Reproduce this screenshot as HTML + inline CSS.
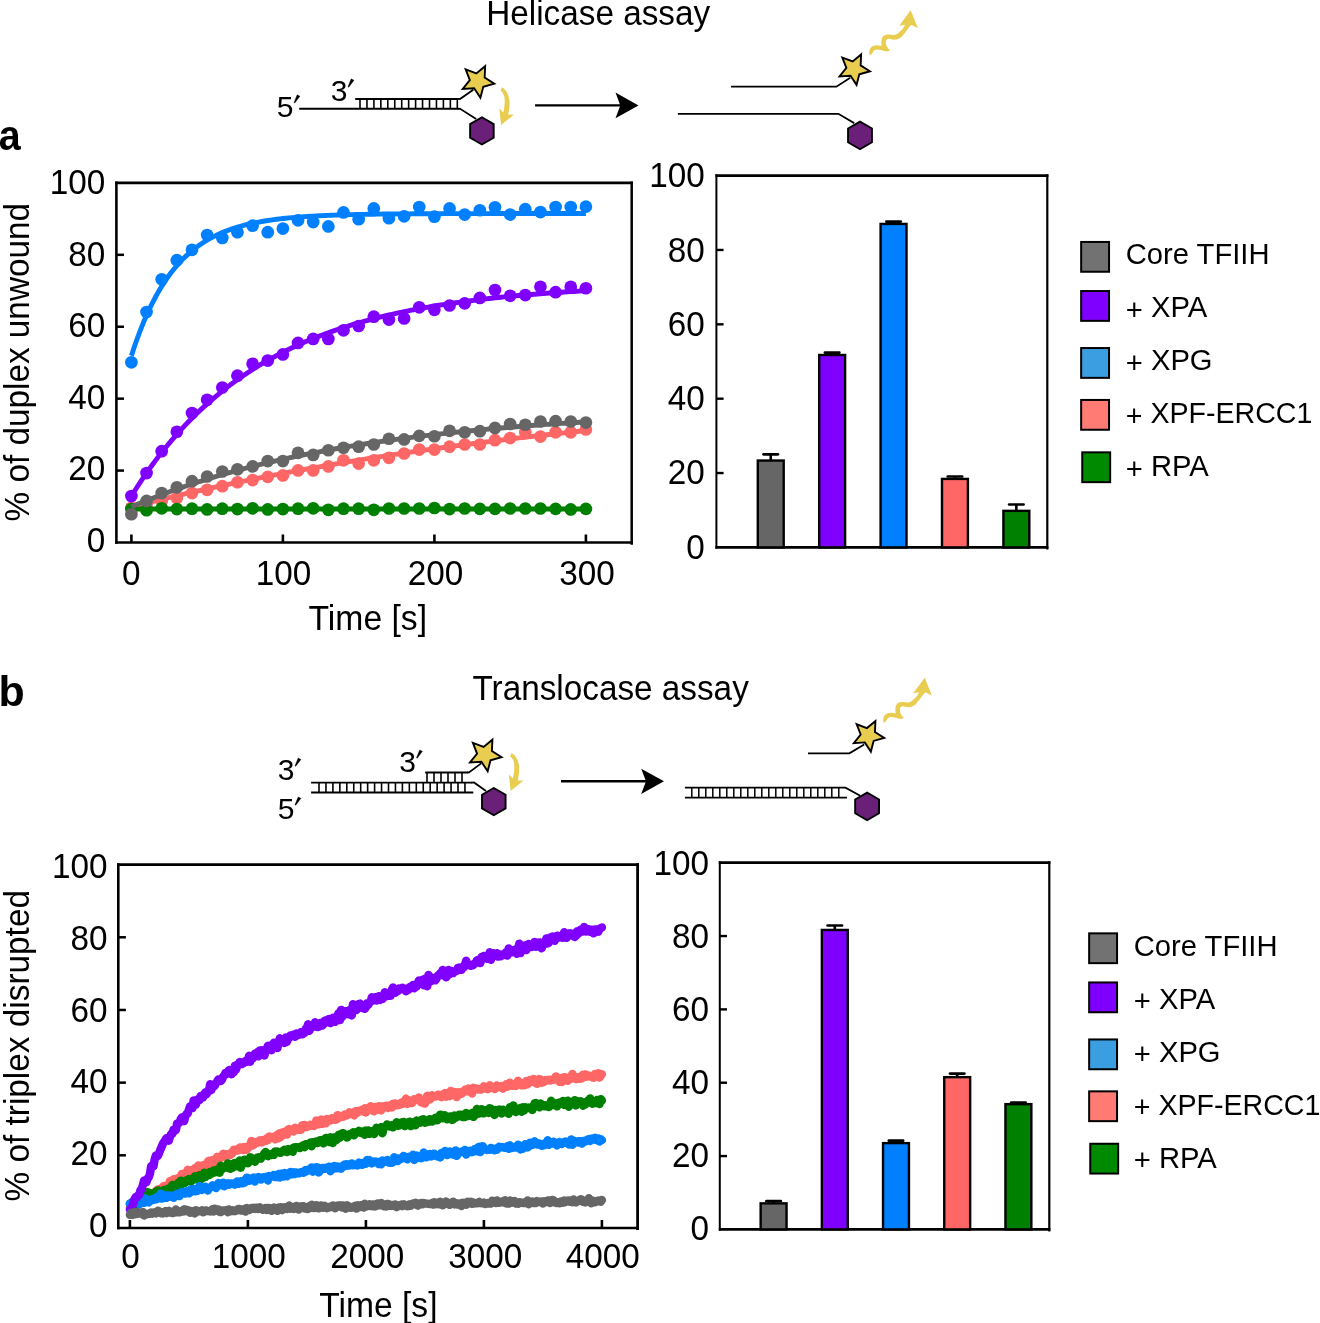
<!DOCTYPE html>
<html><head><meta charset="utf-8"><style>
html,body{margin:0;padding:0;background:#fff;}
svg{display:block;}
text{font-family:"Liberation Sans",sans-serif;fill:#000;}
</style></head><body>
<svg width="1320" height="1323" viewBox="0 0 1320 1323" style="will-change:transform">
<rect width="1320" height="1323" fill="#fff"/>
<text transform="translate(486.27,24.5) scale(1,1.03)" font-size="33.3">Helicase assay</text>
<text transform="translate(472.45,700.2) scale(1,1.03)" font-size="33.3">Translocase assay</text>
<text transform="translate(-1.15,149.6) scale(1,1.065)" font-size="39.4" font-weight="bold">a</text>
<text transform="translate(-1.53,706.3) scale(1,0.975)" font-size="42.9" font-weight="bold">b</text>
<text transform="translate(276.8,116.5) scale(1,1.0)" font-size="30">5</text>
<polygon points="297.17,94.75 299.97,96.15 294.77,103.05 293.97,102.65" fill="#000" stroke="#000" stroke-width="0.35" stroke-linejoin="round"/>
<text transform="translate(330.86,100.6) scale(1,1.0)" font-size="30">3</text>
<polygon points="351.17,78.85 353.97,80.25 348.77,87.15 347.97,86.75" fill="#000" stroke="#000" stroke-width="0.35" stroke-linejoin="round"/>
<line x1="299.2" y1="108.8" x2="458.5" y2="108.8" stroke="#000" stroke-width="1.9"/>
<line x1="355.2" y1="99" x2="458.5" y2="99" stroke="#000" stroke-width="1.8"/>
<line x1="360" y1="99" x2="360" y2="108.8" stroke="#000" stroke-width="1.6"/>
<line x1="366.95" y1="99" x2="366.95" y2="108.8" stroke="#000" stroke-width="1.6"/>
<line x1="373.9" y1="99" x2="373.9" y2="108.8" stroke="#000" stroke-width="1.6"/>
<line x1="380.85" y1="99" x2="380.85" y2="108.8" stroke="#000" stroke-width="1.6"/>
<line x1="387.8" y1="99" x2="387.8" y2="108.8" stroke="#000" stroke-width="1.6"/>
<line x1="394.75" y1="99" x2="394.75" y2="108.8" stroke="#000" stroke-width="1.6"/>
<line x1="401.7" y1="99" x2="401.7" y2="108.8" stroke="#000" stroke-width="1.6"/>
<line x1="408.65" y1="99" x2="408.65" y2="108.8" stroke="#000" stroke-width="1.6"/>
<line x1="415.6" y1="99" x2="415.6" y2="108.8" stroke="#000" stroke-width="1.6"/>
<line x1="422.55" y1="99" x2="422.55" y2="108.8" stroke="#000" stroke-width="1.6"/>
<line x1="429.5" y1="99" x2="429.5" y2="108.8" stroke="#000" stroke-width="1.6"/>
<line x1="436.45" y1="99" x2="436.45" y2="108.8" stroke="#000" stroke-width="1.6"/>
<line x1="443.4" y1="99" x2="443.4" y2="108.8" stroke="#000" stroke-width="1.6"/>
<line x1="450.35" y1="99" x2="450.35" y2="108.8" stroke="#000" stroke-width="1.6"/>
<line x1="457.3" y1="99" x2="457.3" y2="108.8" stroke="#000" stroke-width="1.6"/>
<polyline points="457.6,99 460.3,98.8 473.3,89.7" fill="none" stroke="#000" stroke-width="1.8" stroke-linejoin="miter"/>
<polyline points="457.6,108.8 459.8,108.6 476.2,119" fill="none" stroke="#000" stroke-width="1.8" stroke-linejoin="miter"/>
<polygon points="485.15,66.17 484.66,77.55 494.27,83.68 483.28,86.74 480.42,97.77 474.13,88.27 462.75,88.96 469.84,80.03 465.67,69.42 476.35,73.41" fill="#E8CD50" stroke="#000" stroke-width="1.9" stroke-linejoin="miter"/>
<polygon points="481.9,117.3 493.68,124.1 493.68,137.7 481.9,144.5 470.12,137.7 470.12,124.1" fill="#6A1F78" stroke="#000" stroke-width="1.9"/>
<path transform="translate(0,0)" d="M501.9,87.2 C506.5,89.5 509.8,96 509.6,104 C509.4,109 508.6,112 508.2,114.6 L513.9,114.7 L501.1,125.1 L499.3,108.6 L503.4,112.6 C504.6,107 505.2,100 504.2,96 C503.6,93.5 502.4,91.8 500.6,90.9 Z" fill="#E8CD50"/>
<line x1="535.1" y1="105.4" x2="621.3" y2="105.4" stroke="#000" stroke-width="2.4"/><polygon points="638.5,105.4 615.5,92.5 620.3,105.4 615.5,118.3" fill="#000"/>
<polyline points="731,86.7 836.4,86.7 850.2,77.8" fill="none" stroke="#000" stroke-width="1.8" stroke-linejoin="miter"/>
<polygon points="861.13,54.4 860.64,65.39 869.92,71.29 859.32,74.23 856.57,84.88 850.51,75.7 839.53,76.38 846.38,67.78 842.35,57.55 852.65,61.4" fill="#E8CD50" stroke="#000" stroke-width="1.9" stroke-linejoin="miter"/>
<polyline points="677.9,113.8 838.4,113.8 854.2,123.1" fill="none" stroke="#000" stroke-width="1.8" stroke-linejoin="miter"/>
<polygon points="860,121.6 871.95,128.5 871.95,142.3 860,149.2 848.05,142.3 848.05,128.5" fill="#6A1F78" stroke="#000" stroke-width="1.9"/>
<path transform="translate(0,0)" d="M869.85,55.6 C868.6,52 869.5,48 872.5,46.2 C875.5,44.6 879,45.2 881.7,45.9 C880.8,42 881.5,37.5 884,35.6 C887,33.6 891,34.6 894,35 C897.5,34.8 900.5,31 903.3,28.2 L905.1,24.7 L899.2,25.7 L910.7,10.2 L917.9,27.9 L911.2,24.7 C909.5,26.5 905,33 901.9,36.5 C899.5,38.8 896.5,39.8 894,39.7 C891,39.5 888,37.8 886.6,39.7 C885,41.5 886,45 887.5,47.5 L890,50.8 C887,51.8 884,51 881.7,50.3 C879,49.6 876,49 873.8,50.8 C872.6,52 872.5,54 869.85,55.6 Z" fill="#E8CD50"/>
<text transform="translate(277.86,779.8) scale(1,1.0)" font-size="30">3</text>
<polygon points="298.17,758.05 300.97,759.45 295.77,766.35 294.97,765.95" fill="#000" stroke="#000" stroke-width="0.35" stroke-linejoin="round"/>
<text transform="translate(277.8,818.7) scale(1,1.0)" font-size="30">5</text>
<polygon points="298.17,796.95 300.97,798.35 295.77,805.25 294.97,804.85" fill="#000" stroke="#000" stroke-width="0.35" stroke-linejoin="round"/>
<text transform="translate(399.36,771.7) scale(1,1.0)" font-size="30">3</text>
<polygon points="419.67,749.95 422.47,751.35 417.27,758.25 416.47,757.85" fill="#000" stroke="#000" stroke-width="0.35" stroke-linejoin="round"/>
<line x1="311.1" y1="782.6" x2="472" y2="782.6" stroke="#000" stroke-width="1.9"/>
<line x1="311.1" y1="792.5" x2="473.3" y2="792.5" stroke="#000" stroke-width="1.9"/>
<line x1="425.2" y1="772.5" x2="467.6" y2="772.5" stroke="#000" stroke-width="1.8"/>
<line x1="319" y1="782.6" x2="319" y2="792.5" stroke="#000" stroke-width="1.6"/>
<line x1="325.95" y1="782.6" x2="325.95" y2="792.5" stroke="#000" stroke-width="1.6"/>
<line x1="332.9" y1="782.6" x2="332.9" y2="792.5" stroke="#000" stroke-width="1.6"/>
<line x1="339.85" y1="782.6" x2="339.85" y2="792.5" stroke="#000" stroke-width="1.6"/>
<line x1="346.8" y1="782.6" x2="346.8" y2="792.5" stroke="#000" stroke-width="1.6"/>
<line x1="353.75" y1="782.6" x2="353.75" y2="792.5" stroke="#000" stroke-width="1.6"/>
<line x1="360.7" y1="782.6" x2="360.7" y2="792.5" stroke="#000" stroke-width="1.6"/>
<line x1="367.65" y1="782.6" x2="367.65" y2="792.5" stroke="#000" stroke-width="1.6"/>
<line x1="374.6" y1="782.6" x2="374.6" y2="792.5" stroke="#000" stroke-width="1.6"/>
<line x1="381.55" y1="782.6" x2="381.55" y2="792.5" stroke="#000" stroke-width="1.6"/>
<line x1="388.5" y1="782.6" x2="388.5" y2="792.5" stroke="#000" stroke-width="1.6"/>
<line x1="395.45" y1="782.6" x2="395.45" y2="792.5" stroke="#000" stroke-width="1.6"/>
<line x1="402.4" y1="782.6" x2="402.4" y2="792.5" stroke="#000" stroke-width="1.6"/>
<line x1="409.35" y1="782.6" x2="409.35" y2="792.5" stroke="#000" stroke-width="1.6"/>
<line x1="416.3" y1="782.6" x2="416.3" y2="792.5" stroke="#000" stroke-width="1.6"/>
<line x1="423.25" y1="782.6" x2="423.25" y2="792.5" stroke="#000" stroke-width="1.6"/>
<line x1="430.2" y1="782.6" x2="430.2" y2="792.5" stroke="#000" stroke-width="1.6"/>
<line x1="437.15" y1="782.6" x2="437.15" y2="792.5" stroke="#000" stroke-width="1.6"/>
<line x1="444.1" y1="782.6" x2="444.1" y2="792.5" stroke="#000" stroke-width="1.6"/>
<line x1="451.05" y1="782.6" x2="451.05" y2="792.5" stroke="#000" stroke-width="1.6"/>
<line x1="458" y1="782.6" x2="458" y2="792.5" stroke="#000" stroke-width="1.6"/>
<line x1="464.95" y1="782.6" x2="464.95" y2="792.5" stroke="#000" stroke-width="1.6"/>
<line x1="427" y1="772.5" x2="427" y2="782.6" stroke="#000" stroke-width="1.6"/>
<line x1="434" y1="772.5" x2="434" y2="782.6" stroke="#000" stroke-width="1.6"/>
<line x1="441" y1="772.5" x2="441" y2="782.6" stroke="#000" stroke-width="1.6"/>
<line x1="448" y1="772.5" x2="448" y2="782.6" stroke="#000" stroke-width="1.6"/>
<line x1="455" y1="772.5" x2="455" y2="782.6" stroke="#000" stroke-width="1.6"/>
<line x1="462" y1="772.5" x2="462" y2="782.6" stroke="#000" stroke-width="1.6"/>
<polyline points="467,772.5 469,772.4 481.2,763.4" fill="none" stroke="#000" stroke-width="1.8" stroke-linejoin="miter"/>
<polyline points="471.5,782.6 474,782.5 486,791" fill="none" stroke="#000" stroke-width="1.8" stroke-linejoin="miter"/>
<polygon points="492.4,739.67 491.91,751.05 501.52,757.18 490.53,760.24 487.67,771.27 481.38,761.77 470,762.46 477.09,753.53 472.92,742.92 483.6,746.91" fill="#E8CD50" stroke="#000" stroke-width="1.9" stroke-linejoin="miter"/>
<polygon points="493.8,788 505.58,794.8 505.58,808.4 493.8,815.2 482.02,808.4 482.02,794.8" fill="#6A1F78" stroke="#000" stroke-width="1.9"/>
<path transform="translate(9.6,665.8)" d="M501.9,87.2 C506.5,89.5 509.8,96 509.6,104 C509.4,109 508.6,112 508.2,114.6 L513.9,114.7 L501.1,125.1 L499.3,108.6 L503.4,112.6 C504.6,107 505.2,100 504.2,96 C503.6,93.5 502.4,91.8 500.6,90.9 Z" fill="#E8CD50"/>
<line x1="561" y1="781.3" x2="647" y2="781.3" stroke="#000" stroke-width="2.4"/><polygon points="664,781.3 641.2,768.65 646,781.3 641.2,793.95" fill="#000"/>
<polyline points="808,753.3 849.4,753.3 864.2,744.5" fill="none" stroke="#000" stroke-width="1.8" stroke-linejoin="miter"/>
<polygon points="875.43,721.1 874.94,732.09 884.22,737.99 873.62,740.93 870.87,751.58 864.81,742.4 853.83,743.08 860.68,734.48 856.65,724.25 866.95,728.1" fill="#E8CD50" stroke="#000" stroke-width="1.9" stroke-linejoin="miter"/>
<polyline points="684.9,787.6 845.5,787.6 860.2,795.7" fill="none" stroke="#000" stroke-width="1.8" stroke-linejoin="miter"/>
<line x1="684.9" y1="797.6" x2="847" y2="797.6" stroke="#000" stroke-width="1.8"/>
<line x1="691.8" y1="787.6" x2="691.8" y2="797.6" stroke="#000" stroke-width="1.5"/>
<line x1="698.8" y1="787.6" x2="698.8" y2="797.6" stroke="#000" stroke-width="1.5"/>
<line x1="705.8" y1="787.6" x2="705.8" y2="797.6" stroke="#000" stroke-width="1.5"/>
<line x1="712.8" y1="787.6" x2="712.8" y2="797.6" stroke="#000" stroke-width="1.5"/>
<line x1="719.8" y1="787.6" x2="719.8" y2="797.6" stroke="#000" stroke-width="1.5"/>
<line x1="726.8" y1="787.6" x2="726.8" y2="797.6" stroke="#000" stroke-width="1.5"/>
<line x1="733.8" y1="787.6" x2="733.8" y2="797.6" stroke="#000" stroke-width="1.5"/>
<line x1="740.8" y1="787.6" x2="740.8" y2="797.6" stroke="#000" stroke-width="1.5"/>
<line x1="747.8" y1="787.6" x2="747.8" y2="797.6" stroke="#000" stroke-width="1.5"/>
<line x1="754.8" y1="787.6" x2="754.8" y2="797.6" stroke="#000" stroke-width="1.5"/>
<line x1="761.8" y1="787.6" x2="761.8" y2="797.6" stroke="#000" stroke-width="1.5"/>
<line x1="768.8" y1="787.6" x2="768.8" y2="797.6" stroke="#000" stroke-width="1.5"/>
<line x1="775.8" y1="787.6" x2="775.8" y2="797.6" stroke="#000" stroke-width="1.5"/>
<line x1="782.8" y1="787.6" x2="782.8" y2="797.6" stroke="#000" stroke-width="1.5"/>
<line x1="789.8" y1="787.6" x2="789.8" y2="797.6" stroke="#000" stroke-width="1.5"/>
<line x1="796.8" y1="787.6" x2="796.8" y2="797.6" stroke="#000" stroke-width="1.5"/>
<line x1="803.8" y1="787.6" x2="803.8" y2="797.6" stroke="#000" stroke-width="1.5"/>
<line x1="810.8" y1="787.6" x2="810.8" y2="797.6" stroke="#000" stroke-width="1.5"/>
<line x1="817.8" y1="787.6" x2="817.8" y2="797.6" stroke="#000" stroke-width="1.5"/>
<line x1="824.8" y1="787.6" x2="824.8" y2="797.6" stroke="#000" stroke-width="1.5"/>
<line x1="831.8" y1="787.6" x2="831.8" y2="797.6" stroke="#000" stroke-width="1.5"/>
<line x1="838.8" y1="787.6" x2="838.8" y2="797.6" stroke="#000" stroke-width="1.5"/>
<polygon points="867.1,792.6 879.05,799.5 879.05,813.3 867.1,820.2 855.15,813.3 855.15,799.5" fill="#6A1F78" stroke="#000" stroke-width="1.9"/>
<path transform="translate(14,667.5)" d="M869.85,55.6 C868.6,52 869.5,48 872.5,46.2 C875.5,44.6 879,45.2 881.7,45.9 C880.8,42 881.5,37.5 884,35.6 C887,33.6 891,34.6 894,35 C897.5,34.8 900.5,31 903.3,28.2 L905.1,24.7 L899.2,25.7 L910.7,10.2 L917.9,27.9 L911.2,24.7 C909.5,26.5 905,33 901.9,36.5 C899.5,38.8 896.5,39.8 894,39.7 C891,39.5 888,37.8 886.6,39.7 C885,41.5 886,45 887.5,47.5 L890,50.8 C887,51.8 884,51 881.7,50.3 C879,49.6 876,49 873.8,50.8 C872.6,52 872.5,54 869.85,55.6 Z" fill="#E8CD50"/>
<line x1="116.4" y1="181.6" x2="116.4" y2="543.85" stroke="#000" stroke-width="2.6"/><line x1="115.1" y1="182.9" x2="632.95" y2="182.9" stroke="#000" stroke-width="2.6"/><line x1="115.1" y1="542.5" x2="632.95" y2="542.5" stroke="#000" stroke-width="2.7"/><line x1="631.7" y1="181.6" x2="631.7" y2="544.65" stroke="#000" stroke-width="2.5"/>
<line x1="116.4" y1="470.58" x2="124" y2="470.58" stroke="#000" stroke-width="2.5"/>
<line x1="116.4" y1="398.66" x2="124" y2="398.66" stroke="#000" stroke-width="2.5"/>
<line x1="116.4" y1="326.74" x2="124" y2="326.74" stroke="#000" stroke-width="2.5"/>
<line x1="116.4" y1="254.82" x2="124" y2="254.82" stroke="#000" stroke-width="2.5"/>
<text transform="translate(86.73,551.76) scale(1,1.035)" font-size="33.3">0</text>
<text transform="translate(68.21,480.29) scale(1,1.035)" font-size="33.3">20</text>
<text transform="translate(68.21,408.82) scale(1,1.035)" font-size="33.3">40</text>
<text transform="translate(68.21,337.35) scale(1,1.035)" font-size="33.3">60</text>
<text transform="translate(68.21,265.88) scale(1,1.035)" font-size="33.3">80</text>
<text transform="translate(49.69,194.41) scale(1,1.035)" font-size="33.3">100</text>
<line x1="131.4" y1="542.5" x2="131.4" y2="534.5" stroke="#000" stroke-width="2.6"/>
<text transform="translate(121.94,584.5) scale(1,1.035)" font-size="33.3">0</text>
<line x1="282.9" y1="542.5" x2="282.9" y2="534.5" stroke="#000" stroke-width="2.6"/>
<text transform="translate(255.7,584.5) scale(1,1.035)" font-size="33.3">100</text>
<line x1="434.4" y1="542.5" x2="434.4" y2="534.5" stroke="#000" stroke-width="2.6"/>
<text transform="translate(407.73,584.5) scale(1,1.035)" font-size="33.3">200</text>
<line x1="585.9" y1="542.5" x2="585.9" y2="534.5" stroke="#000" stroke-width="2.6"/>
<text transform="translate(559.19,584.5) scale(1,1.035)" font-size="33.3">300</text>
<text transform="translate(308.54,629.5) scale(1,1.03)" font-size="33.7">Time [s]</text>
<text transform="translate(28.5,521.48) rotate(-90) scale(1,1.03)" font-size="33.32">% of duplex unwound</text>
<g>
<polyline points="131.4,355.77 134.43,346.56 137.46,337.94 140.49,329.88 143.52,322.34 146.55,315.29 149.58,308.7 152.61,302.53 155.64,296.76 158.67,291.37 161.7,286.33 164.73,281.61 167.76,277.2 170.79,273.07 173.82,269.22 176.85,265.61 179.88,262.23 182.91,259.08 185.94,256.13 188.97,253.37 192,250.78 195.03,248.37 198.06,246.11 201.09,244 204.12,242.03 207.15,240.18 210.18,238.45 213.21,236.84 216.24,235.33 219.27,233.92 222.3,232.59 225.33,231.36 228.36,230.2 231.39,229.12 234.42,228.11 237.45,227.17 240.48,226.28 243.51,225.46 246.54,224.68 249.57,223.96 252.6,223.28 255.63,222.65 258.66,222.06 261.69,221.51 264.72,220.99 267.75,220.51 270.78,220.05 273.81,219.63 276.84,219.24 279.87,218.87 282.9,218.52 285.93,218.2 288.96,217.89 291.99,217.61 295.02,217.35 298.05,217.1 301.08,216.87 304.11,216.65 307.14,216.45 310.17,216.26 313.2,216.08 316.23,215.92 319.26,215.76 322.29,215.62 325.32,215.48 328.35,215.35 331.38,215.24 334.41,215.13 337.44,215.02 340.47,214.92 343.5,214.83 346.53,214.75 349.56,214.67 352.59,214.6 355.62,214.53 358.65,214.46 361.68,214.4 364.71,214.34 367.74,214.29 370.77,214.24 373.8,214.2 376.83,214.15 379.86,214.11 382.89,214.07 385.92,214.04 388.95,214 391.98,213.97 395.01,213.94 398.04,213.92 401.07,213.89 404.1,213.87 407.13,213.85 410.16,213.83 413.19,213.81 416.22,213.79 419.25,213.77 422.28,213.75 425.31,213.74 428.34,213.73 431.37,213.71 434.4,213.7 437.43,213.69 440.46,213.68 443.49,213.67 446.52,213.66 449.55,213.65 452.58,213.64 455.61,213.64 458.64,213.63 461.67,213.62 464.7,213.62 467.73,213.61 470.76,213.6 473.79,213.6 476.82,213.59 479.85,213.59 482.88,213.59 485.91,213.58 488.94,213.58 491.97,213.57 495,213.57 498.03,213.57 501.06,213.57 504.09,213.56 507.12,213.56 510.15,213.56 513.18,213.56 516.21,213.55 519.24,213.55 522.27,213.55 525.3,213.55 528.33,213.55 531.36,213.55 534.39,213.54 537.42,213.54 540.45,213.54 543.48,213.54 546.51,213.54 549.54,213.54 552.57,213.54 555.6,213.54 558.63,213.54 561.66,213.54 564.69,213.54 567.72,213.53 570.75,213.53 573.78,213.53 576.81,213.53 579.84,213.53 582.87,213.53 585.9,213.53" fill="none" stroke="#0080FF" stroke-width="4.9" stroke-linejoin="round" stroke-linecap="butt"/>
<circle cx="131.4" cy="362.34" r="6.35" fill="#0080FF"/><circle cx="146.55" cy="312" r="6.35" fill="#0080FF"/><circle cx="161.7" cy="279.27" r="6.35" fill="#0080FF"/><circle cx="176.85" cy="260.21" r="6.35" fill="#0080FF"/><circle cx="192" cy="249.79" r="6.35" fill="#0080FF"/><circle cx="207.15" cy="235.04" r="6.35" fill="#0080FF"/><circle cx="222.3" cy="237.92" r="6.35" fill="#0080FF"/><circle cx="237.45" cy="232.17" r="6.35" fill="#0080FF"/><circle cx="252.6" cy="225.69" r="6.35" fill="#0080FF"/><circle cx="267.75" cy="232.17" r="6.35" fill="#0080FF"/><circle cx="282.9" cy="228.57" r="6.35" fill="#0080FF"/><circle cx="298.05" cy="220.3" r="6.35" fill="#0080FF"/><circle cx="313.2" cy="222.1" r="6.35" fill="#0080FF"/><circle cx="328.35" cy="226.41" r="6.35" fill="#0080FF"/><circle cx="343.5" cy="212.39" r="6.35" fill="#0080FF"/><circle cx="358.65" cy="219.22" r="6.35" fill="#0080FF"/><circle cx="373.8" cy="208.43" r="6.35" fill="#0080FF"/><circle cx="388.95" cy="218.14" r="6.35" fill="#0080FF"/><circle cx="404.1" cy="216.34" r="6.35" fill="#0080FF"/><circle cx="419.25" cy="206.99" r="6.35" fill="#0080FF"/><circle cx="434.4" cy="216.7" r="6.35" fill="#0080FF"/><circle cx="449.55" cy="208.43" r="6.35" fill="#0080FF"/><circle cx="464.7" cy="214.54" r="6.35" fill="#0080FF"/><circle cx="479.85" cy="210.23" r="6.35" fill="#0080FF"/><circle cx="495" cy="207.35" r="6.35" fill="#0080FF"/><circle cx="510.15" cy="214.54" r="6.35" fill="#0080FF"/><circle cx="525.3" cy="209.15" r="6.35" fill="#0080FF"/><circle cx="540.45" cy="212.03" r="6.35" fill="#0080FF"/><circle cx="555.6" cy="206.99" r="6.35" fill="#0080FF"/><circle cx="570.75" cy="206.99" r="6.35" fill="#0080FF"/><circle cx="585.9" cy="206.63" r="6.35" fill="#0080FF"/>
<polyline points="131.4,506.95 134.43,506.18 137.46,505.41 140.49,504.64 143.52,503.88 146.55,503.12 149.58,502.36 152.61,501.62 155.64,500.87 158.67,500.13 161.7,499.4 164.73,498.67 167.76,497.94 170.79,497.22 173.82,496.5 176.85,495.79 179.88,495.08 182.91,494.38 185.94,493.68 188.97,492.98 192,492.29 195.03,491.6 198.06,490.92 201.09,490.24 204.12,489.57 207.15,488.9 210.18,488.23 213.21,487.57 216.24,486.91 219.27,486.26 222.3,485.61 225.33,484.96 228.36,484.32 231.39,483.68 234.42,483.05 237.45,482.42 240.48,481.79 243.51,481.17 246.54,480.55 249.57,479.93 252.6,479.32 255.63,478.72 258.66,478.11 261.69,477.51 264.72,476.92 267.75,476.32 270.78,475.73 273.81,475.15 276.84,474.57 279.87,473.99 282.9,473.41 285.93,472.84 288.96,472.27 291.99,471.71 295.02,471.15 298.05,470.59 301.08,470.04 304.11,469.49 307.14,468.94 310.17,468.4 313.2,467.86 316.23,467.32 319.26,466.79 322.29,466.25 325.32,465.73 328.35,465.2 331.38,464.68 334.41,464.16 337.44,463.65 340.47,463.14 343.5,462.63 346.53,462.13 349.56,461.62 352.59,461.12 355.62,460.63 358.65,460.14 361.68,459.65 364.71,459.16 367.74,458.68 370.77,458.19 373.8,457.72 376.83,457.24 379.86,456.77 382.89,456.3 385.92,455.83 388.95,455.37 391.98,454.91 395.01,454.45 398.04,454 401.07,453.54 404.1,453.1 407.13,452.65 410.16,452.2 413.19,451.76 416.22,451.32 419.25,450.89 422.28,450.46 425.31,450.03 428.34,449.6 431.37,449.17 434.4,448.75 437.43,448.33 440.46,447.91 443.49,447.5 446.52,447.09 449.55,446.68 452.58,446.27 455.61,445.86 458.64,445.46 461.67,445.06 464.7,444.66 467.73,444.27 470.76,443.88 473.79,443.49 476.82,443.1 479.85,442.71 482.88,442.33 485.91,441.95 488.94,441.57 491.97,441.19 495,440.82 498.03,440.45 501.06,440.08 504.09,439.71 507.12,439.35 510.15,438.99 513.18,438.63 516.21,438.27 519.24,437.91 522.27,437.56 525.3,437.21 528.33,436.86 531.36,436.51 534.39,436.17 537.42,435.82 540.45,435.48 543.48,435.14 546.51,434.81 549.54,434.47 552.57,434.14 555.6,433.81 558.63,433.48 561.66,433.15 564.69,432.83 567.72,432.51 570.75,432.19 573.78,431.87 576.81,431.55 579.84,431.24 582.87,430.92 585.9,430.61" fill="none" stroke="#FF6666" stroke-width="4.9" stroke-linejoin="round" stroke-linecap="butt"/>
<circle cx="131.4" cy="507.8" r="6.35" fill="#FF6666"/><circle cx="146.55" cy="504.56" r="6.35" fill="#FF6666"/><circle cx="161.7" cy="500.97" r="6.35" fill="#FF6666"/><circle cx="176.85" cy="498.09" r="6.35" fill="#FF6666"/><circle cx="192" cy="493.06" r="6.35" fill="#FF6666"/><circle cx="207.15" cy="489.82" r="6.35" fill="#FF6666"/><circle cx="222.3" cy="486.22" r="6.35" fill="#FF6666"/><circle cx="237.45" cy="482.27" r="6.35" fill="#FF6666"/><circle cx="252.6" cy="480.11" r="6.35" fill="#FF6666"/><circle cx="267.75" cy="476.87" r="6.35" fill="#FF6666"/><circle cx="282.9" cy="475.43" r="6.35" fill="#FF6666"/><circle cx="298.05" cy="470.4" r="6.35" fill="#FF6666"/><circle cx="313.2" cy="470.4" r="6.35" fill="#FF6666"/><circle cx="328.35" cy="466.44" r="6.35" fill="#FF6666"/><circle cx="343.5" cy="460.33" r="6.35" fill="#FF6666"/><circle cx="358.65" cy="463.57" r="6.35" fill="#FF6666"/><circle cx="373.8" cy="460.33" r="6.35" fill="#FF6666"/><circle cx="388.95" cy="457.81" r="6.35" fill="#FF6666"/><circle cx="404.1" cy="453.5" r="6.35" fill="#FF6666"/><circle cx="419.25" cy="449.54" r="6.35" fill="#FF6666"/><circle cx="434.4" cy="449.54" r="6.35" fill="#FF6666"/><circle cx="449.55" cy="446.67" r="6.35" fill="#FF6666"/><circle cx="464.7" cy="444.51" r="6.35" fill="#FF6666"/><circle cx="479.85" cy="444.51" r="6.35" fill="#FF6666"/><circle cx="495" cy="440.19" r="6.35" fill="#FF6666"/><circle cx="510.15" cy="438.04" r="6.35" fill="#FF6666"/><circle cx="525.3" cy="432.28" r="6.35" fill="#FF6666"/><circle cx="540.45" cy="436.6" r="6.35" fill="#FF6666"/><circle cx="555.6" cy="432.28" r="6.35" fill="#FF6666"/><circle cx="570.75" cy="432.28" r="6.35" fill="#FF6666"/><circle cx="585.9" cy="429.41" r="6.35" fill="#FF6666"/>
<polyline points="131.4,509.06 134.43,509.06 137.46,509.06 140.49,509.06 143.52,509.06 146.55,509.06 149.58,509.06 152.61,509.06 155.64,509.06 158.67,509.06 161.7,509.06 164.73,509.06 167.76,509.06 170.79,509.06 173.82,509.06 176.85,509.06 179.88,509.06 182.91,509.06 185.94,509.06 188.97,509.06 192,509.06 195.03,509.06 198.06,509.06 201.09,509.06 204.12,509.06 207.15,509.06 210.18,509.06 213.21,509.06 216.24,509.06 219.27,509.06 222.3,509.06 225.33,509.06 228.36,509.06 231.39,509.06 234.42,509.06 237.45,509.06 240.48,509.06 243.51,509.06 246.54,509.06 249.57,509.06 252.6,509.06 255.63,509.06 258.66,509.06 261.69,509.06 264.72,509.06 267.75,509.06 270.78,509.06 273.81,509.06 276.84,509.06 279.87,509.06 282.9,509.06 285.93,509.06 288.96,509.06 291.99,509.06 295.02,509.06 298.05,509.06 301.08,509.06 304.11,509.06 307.14,509.06 310.17,509.06 313.2,509.06 316.23,509.06 319.26,509.06 322.29,509.06 325.32,509.06 328.35,509.06 331.38,509.06 334.41,509.06 337.44,509.06 340.47,509.06 343.5,509.06 346.53,509.06 349.56,509.06 352.59,509.06 355.62,509.06 358.65,509.06 361.68,509.06 364.71,509.06 367.74,509.06 370.77,509.06 373.8,509.06 376.83,509.06 379.86,509.06 382.89,509.06 385.92,509.06 388.95,509.06 391.98,509.06 395.01,509.06 398.04,509.06 401.07,509.06 404.1,509.06 407.13,509.06 410.16,509.06 413.19,509.06 416.22,509.06 419.25,509.06 422.28,509.06 425.31,509.06 428.34,509.06 431.37,509.06 434.4,509.06 437.43,509.06 440.46,509.06 443.49,509.06 446.52,509.06 449.55,509.06 452.58,509.06 455.61,509.06 458.64,509.06 461.67,509.06 464.7,509.06 467.73,509.06 470.76,509.06 473.79,509.06 476.82,509.06 479.85,509.06 482.88,509.06 485.91,509.06 488.94,509.06 491.97,509.06 495,509.06 498.03,509.06 501.06,509.06 504.09,509.06 507.12,509.06 510.15,509.06 513.18,509.06 516.21,509.06 519.24,509.06 522.27,509.06 525.3,509.06 528.33,509.06 531.36,509.06 534.39,509.06 537.42,509.06 540.45,509.06 543.48,509.06 546.51,509.06 549.54,509.06 552.57,509.06 555.6,509.06 558.63,509.06 561.66,509.06 564.69,509.06 567.72,509.06 570.75,509.06 573.78,509.06 576.81,509.06 579.84,509.06 582.87,509.06 585.9,509.06" fill="none" stroke="#008000" stroke-width="4.9" stroke-linejoin="round" stroke-linecap="butt"/>
<circle cx="131.4" cy="509.06" r="6.35" fill="#008000"/><circle cx="146.55" cy="510.14" r="6.35" fill="#008000"/><circle cx="161.7" cy="508.34" r="6.35" fill="#008000"/><circle cx="176.85" cy="509.06" r="6.35" fill="#008000"/><circle cx="192" cy="508.7" r="6.35" fill="#008000"/><circle cx="207.15" cy="509.42" r="6.35" fill="#008000"/><circle cx="222.3" cy="508.7" r="6.35" fill="#008000"/><circle cx="237.45" cy="509.06" r="6.35" fill="#008000"/><circle cx="252.6" cy="508.34" r="6.35" fill="#008000"/><circle cx="267.75" cy="509.42" r="6.35" fill="#008000"/><circle cx="282.9" cy="509.06" r="6.35" fill="#008000"/><circle cx="298.05" cy="508.7" r="6.35" fill="#008000"/><circle cx="313.2" cy="508.34" r="6.35" fill="#008000"/><circle cx="328.35" cy="509.78" r="6.35" fill="#008000"/><circle cx="343.5" cy="508.7" r="6.35" fill="#008000"/><circle cx="358.65" cy="508.7" r="6.35" fill="#008000"/><circle cx="373.8" cy="509.78" r="6.35" fill="#008000"/><circle cx="388.95" cy="508.52" r="6.35" fill="#008000"/><circle cx="404.1" cy="508.52" r="6.35" fill="#008000"/><circle cx="419.25" cy="508.52" r="6.35" fill="#008000"/><circle cx="434.4" cy="507.98" r="6.35" fill="#008000"/><circle cx="449.55" cy="509.06" r="6.35" fill="#008000"/><circle cx="464.7" cy="508.52" r="6.35" fill="#008000"/><circle cx="479.85" cy="508.88" r="6.35" fill="#008000"/><circle cx="495" cy="508.88" r="6.35" fill="#008000"/><circle cx="510.15" cy="508.52" r="6.35" fill="#008000"/><circle cx="525.3" cy="508.52" r="6.35" fill="#008000"/><circle cx="540.45" cy="508.52" r="6.35" fill="#008000"/><circle cx="555.6" cy="508.88" r="6.35" fill="#008000"/><circle cx="570.75" cy="509.42" r="6.35" fill="#008000"/><circle cx="585.9" cy="508.88" r="6.35" fill="#008000"/>
<polyline points="131.4,506.86 134.43,505.57 137.46,504.29 140.49,503.03 143.52,501.79 146.55,500.57 149.58,499.36 152.61,498.16 155.64,496.99 158.67,495.82 161.7,494.68 164.73,493.54 167.76,492.43 170.79,491.32 173.82,490.24 176.85,489.16 179.88,488.1 182.91,487.06 185.94,486.02 188.97,485.01 192,484 195.03,483.01 198.06,482.03 201.09,481.06 204.12,480.11 207.15,479.17 210.18,478.24 213.21,477.32 216.24,476.42 219.27,475.52 222.3,474.64 225.33,473.77 228.36,472.91 231.39,472.07 234.42,471.23 237.45,470.41 240.48,469.59 243.51,468.79 246.54,468 249.57,467.21 252.6,466.44 255.63,465.68 258.66,464.93 261.69,464.18 264.72,463.45 267.75,462.73 270.78,462.01 273.81,461.31 276.84,460.61 279.87,459.93 282.9,459.25 285.93,458.58 288.96,457.92 291.99,457.27 295.02,456.63 298.05,456 301.08,455.37 304.11,454.75 307.14,454.14 310.17,453.54 313.2,452.95 316.23,452.36 319.26,451.79 322.29,451.22 325.32,450.65 328.35,450.1 331.38,449.55 334.41,449.01 337.44,448.47 340.47,447.95 343.5,447.43 346.53,446.91 349.56,446.41 352.59,445.91 355.62,445.41 358.65,444.93 361.68,444.45 364.71,443.97 367.74,443.5 370.77,443.04 373.8,442.58 376.83,442.13 379.86,441.69 382.89,441.25 385.92,440.82 388.95,440.39 391.98,439.97 395.01,439.56 398.04,439.15 401.07,438.74 404.1,438.34 407.13,437.95 410.16,437.56 413.19,437.17 416.22,436.79 419.25,436.42 422.28,436.05 425.31,435.69 428.34,435.33 431.37,434.97 434.4,434.62 437.43,434.28 440.46,433.94 443.49,433.6 446.52,433.27 449.55,432.94 452.58,432.62 455.61,432.3 458.64,431.98 461.67,431.67 464.7,431.36 467.73,431.06 470.76,430.76 473.79,430.47 476.82,430.17 479.85,429.89 482.88,429.6 485.91,429.32 488.94,429.05 491.97,428.77 495,428.51 498.03,428.24 501.06,427.98 504.09,427.72 507.12,427.46 510.15,427.21 513.18,426.96 516.21,426.72 519.24,426.48 522.27,426.24 525.3,426 528.33,425.77 531.36,425.54 534.39,425.31 537.42,425.09 540.45,424.87 543.48,424.65 546.51,424.43 549.54,424.22 552.57,424.01 555.6,423.81 558.63,423.6 561.66,423.4 564.69,423.2 567.72,423.01 570.75,422.81 573.78,422.62 576.81,422.43 579.84,422.25 582.87,422.06 585.9,421.88" fill="none" stroke="#666666" stroke-width="4.9" stroke-linejoin="round" stroke-linecap="butt"/>
<circle cx="131.4" cy="514.27" r="6.35" fill="#666666"/><circle cx="146.55" cy="500.97" r="6.35" fill="#666666"/><circle cx="161.7" cy="493.06" r="6.35" fill="#666666"/><circle cx="176.85" cy="487.3" r="6.35" fill="#666666"/><circle cx="192" cy="481.19" r="6.35" fill="#666666"/><circle cx="207.15" cy="476.51" r="6.35" fill="#666666"/><circle cx="222.3" cy="471.48" r="6.35" fill="#666666"/><circle cx="237.45" cy="469.32" r="6.35" fill="#666666"/><circle cx="252.6" cy="466.44" r="6.35" fill="#666666"/><circle cx="267.75" cy="461.05" r="6.35" fill="#666666"/><circle cx="282.9" cy="461.05" r="6.35" fill="#666666"/><circle cx="298.05" cy="452.78" r="6.35" fill="#666666"/><circle cx="313.2" cy="454.94" r="6.35" fill="#666666"/><circle cx="328.35" cy="450.26" r="6.35" fill="#666666"/><circle cx="343.5" cy="447.75" r="6.35" fill="#666666"/><circle cx="358.65" cy="446.67" r="6.35" fill="#666666"/><circle cx="373.8" cy="444.51" r="6.35" fill="#666666"/><circle cx="388.95" cy="438.76" r="6.35" fill="#666666"/><circle cx="404.1" cy="439.47" r="6.35" fill="#666666"/><circle cx="419.25" cy="435.88" r="6.35" fill="#666666"/><circle cx="434.4" cy="436.24" r="6.35" fill="#666666"/><circle cx="449.55" cy="430.84" r="6.35" fill="#666666"/><circle cx="464.7" cy="432.28" r="6.35" fill="#666666"/><circle cx="479.85" cy="431.2" r="6.35" fill="#666666"/><circle cx="495" cy="427.97" r="6.35" fill="#666666"/><circle cx="510.15" cy="424.01" r="6.35" fill="#666666"/><circle cx="525.3" cy="424.73" r="6.35" fill="#666666"/><circle cx="540.45" cy="421.49" r="6.35" fill="#666666"/><circle cx="555.6" cy="421.13" r="6.35" fill="#666666"/><circle cx="570.75" cy="421.49" r="6.35" fill="#666666"/><circle cx="585.9" cy="422.57" r="6.35" fill="#666666"/>
<polyline points="131.4,496.06 134.43,491.2 137.46,486.47 140.49,481.85 143.52,477.34 146.55,472.94 149.58,468.65 152.61,464.46 155.64,460.37 158.67,456.38 161.7,452.49 164.73,448.68 167.76,444.97 170.79,441.34 173.82,437.8 176.85,434.34 179.88,430.96 182.91,427.66 185.94,424.44 188.97,421.29 192,418.21 195.03,415.21 198.06,412.27 201.09,409.4 204.12,406.6 207.15,403.86 210.18,401.18 213.21,398.57 216.24,396.01 219.27,393.52 222.3,391.07 225.33,388.69 228.36,386.36 231.39,384.08 234.42,381.85 237.45,379.67 240.48,377.54 243.51,375.46 246.54,373.43 249.57,371.44 252.6,369.5 255.63,367.6 258.66,365.74 261.69,363.92 264.72,362.14 267.75,360.41 270.78,358.71 273.81,357.05 276.84,355.43 279.87,353.84 282.9,352.29 285.93,350.77 288.96,349.29 291.99,347.83 295.02,346.42 298.05,345.03 301.08,343.67 304.11,342.34 307.14,341.05 310.17,339.78 313.2,338.54 316.23,337.32 319.26,336.14 322.29,334.98 325.32,333.84 328.35,332.73 331.38,331.65 334.41,330.58 337.44,329.55 340.47,328.53 343.5,327.54 346.53,326.57 349.56,325.62 352.59,324.69 355.62,323.78 358.65,322.89 361.68,322.02 364.71,321.17 367.74,320.34 370.77,319.53 373.8,318.73 376.83,317.95 379.86,317.19 382.89,316.45 385.92,315.72 388.95,315.01 391.98,314.31 395.01,313.63 398.04,312.97 401.07,312.31 404.1,311.68 407.13,311.05 410.16,310.44 413.19,309.85 416.22,309.26 419.25,308.69 422.28,308.14 425.31,307.59 428.34,307.06 431.37,306.53 434.4,306.02 437.43,305.52 440.46,305.03 443.49,304.56 446.52,304.09 449.55,303.63 452.58,303.19 455.61,302.75 458.64,302.32 461.67,301.9 464.7,301.49 467.73,301.09 470.76,300.7 473.79,300.32 476.82,299.94 479.85,299.58 482.88,299.22 485.91,298.87 488.94,298.52 491.97,298.19 495,297.86 498.03,297.54 501.06,297.22 504.09,296.92 507.12,296.62 510.15,296.32 513.18,296.03 516.21,295.75 519.24,295.48 522.27,295.21 525.3,294.95 528.33,294.69 531.36,294.44 534.39,294.19 537.42,293.95 540.45,293.71 543.48,293.48 546.51,293.26 549.54,293.04 552.57,292.82 555.6,292.61 558.63,292.41 561.66,292.2 564.69,292.01 567.72,291.81 570.75,291.62 573.78,291.44 576.81,291.26 579.84,291.08 582.87,290.91 585.9,290.74" fill="none" stroke="#8000FF" stroke-width="4.9" stroke-linejoin="round" stroke-linecap="butt"/>
<circle cx="131.4" cy="496.11" r="6.35" fill="#8000FF"/><circle cx="146.55" cy="473.1" r="6.35" fill="#8000FF"/><circle cx="161.7" cy="451.16" r="6.35" fill="#8000FF"/><circle cx="176.85" cy="431.74" r="6.35" fill="#8000FF"/><circle cx="192" cy="413.04" r="6.35" fill="#8000FF"/><circle cx="207.15" cy="399.74" r="6.35" fill="#8000FF"/><circle cx="222.3" cy="387.51" r="6.35" fill="#8000FF"/><circle cx="237.45" cy="375.65" r="6.35" fill="#8000FF"/><circle cx="252.6" cy="363.78" r="6.35" fill="#8000FF"/><circle cx="267.75" cy="360.54" r="6.35" fill="#8000FF"/><circle cx="282.9" cy="354.43" r="6.35" fill="#8000FF"/><circle cx="298.05" cy="342.92" r="6.35" fill="#8000FF"/><circle cx="313.2" cy="338.97" r="6.35" fill="#8000FF"/><circle cx="328.35" cy="338.97" r="6.35" fill="#8000FF"/><circle cx="343.5" cy="330.34" r="6.35" fill="#8000FF"/><circle cx="358.65" cy="326.02" r="6.35" fill="#8000FF"/><circle cx="373.8" cy="316.67" r="6.35" fill="#8000FF"/><circle cx="388.95" cy="319.55" r="6.35" fill="#8000FF"/><circle cx="404.1" cy="318.47" r="6.35" fill="#8000FF"/><circle cx="419.25" cy="307.32" r="6.35" fill="#8000FF"/><circle cx="434.4" cy="309.84" r="6.35" fill="#8000FF"/><circle cx="449.55" cy="305.52" r="6.35" fill="#8000FF"/><circle cx="464.7" cy="303.37" r="6.35" fill="#8000FF"/><circle cx="479.85" cy="297.97" r="6.35" fill="#8000FF"/><circle cx="495" cy="290.06" r="6.35" fill="#8000FF"/><circle cx="510.15" cy="295.81" r="6.35" fill="#8000FF"/><circle cx="525.3" cy="295.1" r="6.35" fill="#8000FF"/><circle cx="540.45" cy="286.82" r="6.35" fill="#8000FF"/><circle cx="555.6" cy="292.22" r="6.35" fill="#8000FF"/><circle cx="570.75" cy="286.82" r="6.35" fill="#8000FF"/><circle cx="585.9" cy="288.26" r="6.35" fill="#8000FF"/>
</g>
<line x1="716.4" y1="174.25" x2="716.4" y2="548.8" stroke="#000" stroke-width="2"/><line x1="715.4" y1="175.6" x2="1048.4" y2="175.6" stroke="#000" stroke-width="2.7"/><line x1="715.4" y1="547.4" x2="1048.4" y2="547.4" stroke="#000" stroke-width="2.8"/><line x1="1047.3" y1="174.25" x2="1047.3" y2="549.6" stroke="#000" stroke-width="2.2"/>
<line x1="716.4" y1="473.04" x2="723.6" y2="473.04" stroke="#000" stroke-width="2.4"/>
<line x1="716.4" y1="398.68" x2="723.6" y2="398.68" stroke="#000" stroke-width="2.4"/>
<line x1="716.4" y1="324.32" x2="723.6" y2="324.32" stroke="#000" stroke-width="2.4"/>
<line x1="716.4" y1="249.96" x2="723.6" y2="249.96" stroke="#000" stroke-width="2.4"/>
<text transform="translate(686.18,558.51) scale(1,1.035)" font-size="33.3">0</text>
<text transform="translate(667.66,484.27) scale(1,1.035)" font-size="33.3">20</text>
<text transform="translate(667.66,410.03) scale(1,1.035)" font-size="33.3">40</text>
<text transform="translate(667.66,335.79) scale(1,1.035)" font-size="33.3">60</text>
<text transform="translate(667.66,261.55) scale(1,1.035)" font-size="33.3">80</text>
<text transform="translate(649.14,187.31) scale(1,1.035)" font-size="33.3">100</text>
<line x1="770.75" y1="454.34" x2="770.75" y2="460.55" stroke="#000" stroke-width="2.6"/>
<line x1="763.55" y1="454.34" x2="777.95" y2="454.34" stroke="#000" stroke-width="2.7" stroke-linecap="round"/>
<rect x="757.8" y="460.55" width="25.9" height="86.85" fill="#666666" stroke="#000" stroke-width="2.4"/>
<line x1="832.15" y1="352.58" x2="832.15" y2="354.99" stroke="#000" stroke-width="2.6"/>
<line x1="824.95" y1="352.58" x2="839.35" y2="352.58" stroke="#000" stroke-width="2.7" stroke-linecap="round"/>
<rect x="819.2" y="354.99" width="25.9" height="192.41" fill="#8000FF" stroke="#000" stroke-width="2.4"/>
<line x1="893.55" y1="221.55" x2="893.55" y2="223.93" stroke="#000" stroke-width="2.6"/>
<line x1="886.35" y1="221.55" x2="900.75" y2="221.55" stroke="#000" stroke-width="2.7" stroke-linecap="round"/>
<rect x="880.6" y="223.93" width="25.9" height="323.47" fill="#0080FF" stroke="#000" stroke-width="2.4"/>
<line x1="954.95" y1="476.5" x2="954.95" y2="478.91" stroke="#000" stroke-width="2.6"/>
<line x1="947.75" y1="476.5" x2="962.15" y2="476.5" stroke="#000" stroke-width="2.7" stroke-linecap="round"/>
<rect x="942" y="478.91" width="25.9" height="68.49" fill="#FF6666" stroke="#000" stroke-width="2.4"/>
<line x1="1016.35" y1="504.49" x2="1016.35" y2="510.85" stroke="#000" stroke-width="2.6"/>
<line x1="1009.15" y1="504.49" x2="1023.55" y2="504.49" stroke="#000" stroke-width="2.7" stroke-linecap="round"/>
<rect x="1003.4" y="510.85" width="25.9" height="36.55" fill="#008000" stroke="#000" stroke-width="2.4"/>
<line x1="719.8" y1="861.35" x2="719.8" y2="1230.8" stroke="#000" stroke-width="2"/><line x1="718.8" y1="862.7" x2="1050.4" y2="862.7" stroke="#000" stroke-width="2.7"/><line x1="718.8" y1="1229.4" x2="1050.4" y2="1229.4" stroke="#000" stroke-width="2.8"/><line x1="1049.3" y1="861.35" x2="1049.3" y2="1231.6" stroke="#000" stroke-width="2.2"/>
<line x1="719.8" y1="1156.06" x2="727" y2="1156.06" stroke="#000" stroke-width="2.4"/>
<line x1="719.8" y1="1082.72" x2="727" y2="1082.72" stroke="#000" stroke-width="2.4"/>
<line x1="719.8" y1="1009.38" x2="727" y2="1009.38" stroke="#000" stroke-width="2.4"/>
<line x1="719.8" y1="936.04" x2="727" y2="936.04" stroke="#000" stroke-width="2.4"/>
<text transform="translate(690.58,1240.01) scale(1,1.035)" font-size="33.3">0</text>
<text transform="translate(672.06,1166.93) scale(1,1.035)" font-size="33.3">20</text>
<text transform="translate(672.06,1093.85) scale(1,1.035)" font-size="33.3">40</text>
<text transform="translate(672.06,1020.77) scale(1,1.035)" font-size="33.3">60</text>
<text transform="translate(672.06,947.69) scale(1,1.035)" font-size="33.3">80</text>
<text transform="translate(653.54,874.61) scale(1,1.035)" font-size="33.3">100</text>
<line x1="773.6" y1="1201.16" x2="773.6" y2="1203.36" stroke="#000" stroke-width="2.6"/>
<line x1="766.4" y1="1201.16" x2="780.8" y2="1201.16" stroke="#000" stroke-width="2.7" stroke-linecap="round"/>
<rect x="760.65" y="1203.36" width="25.9" height="26.04" fill="#666666" stroke="#000" stroke-width="2.4"/>
<line x1="834.8" y1="925.52" x2="834.8" y2="929.95" stroke="#000" stroke-width="2.6"/>
<line x1="827.6" y1="925.52" x2="842" y2="925.52" stroke="#000" stroke-width="2.7" stroke-linecap="round"/>
<rect x="821.85" y="929.95" width="25.9" height="299.45" fill="#8000FF" stroke="#000" stroke-width="2.4"/>
<line x1="896" y1="1140.66" x2="896" y2="1143.12" stroke="#000" stroke-width="2.6"/>
<line x1="888.8" y1="1140.66" x2="903.2" y2="1140.66" stroke="#000" stroke-width="2.7" stroke-linecap="round"/>
<rect x="883.05" y="1143.12" width="25.9" height="86.28" fill="#0080FF" stroke="#000" stroke-width="2.4"/>
<line x1="957.2" y1="1073.55" x2="957.2" y2="1077.15" stroke="#000" stroke-width="2.6"/>
<line x1="950" y1="1073.55" x2="964.4" y2="1073.55" stroke="#000" stroke-width="2.7" stroke-linecap="round"/>
<rect x="944.25" y="1077.15" width="25.9" height="152.25" fill="#FF6666" stroke="#000" stroke-width="2.4"/>
<line x1="1018.4" y1="1102.52" x2="1018.4" y2="1104.14" stroke="#000" stroke-width="2.6"/>
<line x1="1011.2" y1="1102.52" x2="1025.6" y2="1102.52" stroke="#000" stroke-width="2.7" stroke-linecap="round"/>
<rect x="1005.45" y="1104.14" width="25.9" height="125.26" fill="#008000" stroke="#000" stroke-width="2.4"/>
<rect x="1081.15" y="241.95" width="27.9" height="29.8" fill="#727272" stroke="#000" stroke-width="2.0"/>
<text transform="translate(1125.72,264.1) scale(1,1.03)" font-size="29.2">Core TFIIH</text>
<rect x="1081.15" y="291.05" width="27.9" height="29.8" fill="#8000FF" stroke="#000" stroke-width="2.0"/>
<text transform="translate(1125.77,317.1) scale(1.0,1.03)" font-size="29.2"><tspan dy="2.4">+</tspan><tspan dy="-2.4"> XPA</tspan></text>
<rect x="1081.15" y="348.05" width="27.9" height="29.8" fill="#3A9EE0" stroke="#000" stroke-width="2.0"/>
<text transform="translate(1125.77,370.15) scale(1.0,1.03)" font-size="29.2"><tspan dy="2.4">+</tspan><tspan dy="-2.4"> XPG</tspan></text>
<rect x="1081.15" y="399.95" width="27.9" height="29.8" fill="#FF7B73" stroke="#000" stroke-width="2.0"/>
<text transform="translate(1125.77,423.2) scale(0.979,1.03)" font-size="29.2"><tspan dy="2.4">+</tspan><tspan dy="-2.4"> XPF-ERCC1</tspan></text>
<rect x="1082.25" y="452.35" width="27.9" height="29.8" fill="#008A00" stroke="#000" stroke-width="2.0"/>
<text transform="translate(1125.77,476.2) scale(1.0,1.03)" font-size="29.2"><tspan dy="2.4">+</tspan><tspan dy="-2.4"> RPA</tspan></text>
<rect x="1089.15" y="933.35" width="27.9" height="29.8" fill="#727272" stroke="#000" stroke-width="2.0"/>
<text transform="translate(1133.72,955.5) scale(1,1.03)" font-size="29.2">Core TFIIH</text>
<rect x="1089.15" y="982.45" width="27.9" height="29.8" fill="#8000FF" stroke="#000" stroke-width="2.0"/>
<text transform="translate(1133.77,1008.5) scale(1.0,1.03)" font-size="29.2"><tspan dy="2.4">+</tspan><tspan dy="-2.4"> XPA</tspan></text>
<rect x="1089.15" y="1039.45" width="27.9" height="29.8" fill="#3A9EE0" stroke="#000" stroke-width="2.0"/>
<text transform="translate(1133.77,1061.55) scale(1.0,1.03)" font-size="29.2"><tspan dy="2.4">+</tspan><tspan dy="-2.4"> XPG</tspan></text>
<rect x="1089.15" y="1091.35" width="27.9" height="29.8" fill="#FF7B73" stroke="#000" stroke-width="2.0"/>
<text transform="translate(1133.77,1114.6) scale(0.979,1.03)" font-size="29.2"><tspan dy="2.4">+</tspan><tspan dy="-2.4"> XPF-ERCC1</tspan></text>
<rect x="1090.25" y="1143.75" width="27.9" height="29.8" fill="#008A00" stroke="#000" stroke-width="2.0"/>
<text transform="translate(1133.77,1167.6) scale(1.0,1.03)" font-size="29.2"><tspan dy="2.4">+</tspan><tspan dy="-2.4"> RPA</tspan></text>
<line x1="118.3" y1="863.25" x2="118.3" y2="1229.3" stroke="#000" stroke-width="2.6"/><line x1="117" y1="864.6" x2="639" y2="864.6" stroke="#000" stroke-width="2.7"/><line x1="117" y1="1228" x2="639" y2="1228" stroke="#000" stroke-width="2.6"/><line x1="637.6" y1="863.25" x2="637.6" y2="1230.1" stroke="#000" stroke-width="2.8"/>
<line x1="118.3" y1="1155.32" x2="125.9" y2="1155.32" stroke="#000" stroke-width="2.5"/>
<line x1="118.3" y1="1082.64" x2="125.9" y2="1082.64" stroke="#000" stroke-width="2.5"/>
<line x1="118.3" y1="1009.96" x2="125.9" y2="1009.96" stroke="#000" stroke-width="2.5"/>
<line x1="118.3" y1="937.28" x2="125.9" y2="937.28" stroke="#000" stroke-width="2.5"/>
<text transform="translate(89.03,1236.56) scale(1,1.035)" font-size="33.3">0</text>
<text transform="translate(70.51,1164.91) scale(1,1.035)" font-size="33.3">20</text>
<text transform="translate(70.51,1093.26) scale(1,1.035)" font-size="33.3">40</text>
<text transform="translate(70.51,1021.61) scale(1,1.035)" font-size="33.3">60</text>
<text transform="translate(70.51,949.96) scale(1,1.035)" font-size="33.3">80</text>
<text transform="translate(51.99,878.31) scale(1,1.035)" font-size="33.3">100</text>
<line x1="129.9" y1="1228" x2="129.9" y2="1220" stroke="#000" stroke-width="2.6"/>
<text transform="translate(121.24,1268.3) scale(1,1.035)" font-size="33.3">0</text>
<line x1="247.9" y1="1228" x2="247.9" y2="1220" stroke="#000" stroke-width="2.6"/>
<text transform="translate(211.79,1268.3) scale(1,1.035)" font-size="33.3">1000</text>
<line x1="365.9" y1="1228" x2="365.9" y2="1220" stroke="#000" stroke-width="2.6"/>
<text transform="translate(330.17,1268.3) scale(1,1.035)" font-size="33.3">2000</text>
<line x1="483.9" y1="1228" x2="483.9" y2="1220" stroke="#000" stroke-width="2.6"/>
<text transform="translate(448.18,1268.3) scale(1,1.035)" font-size="33.3">3000</text>
<line x1="601.9" y1="1228" x2="601.9" y2="1220" stroke="#000" stroke-width="2.6"/>
<text transform="translate(565.63,1268.3) scale(1,1.035)" font-size="33.3">4000</text>
<text transform="translate(319.14,1316.6) scale(1,1.03)" font-size="33.65">Time [s]</text>
<text transform="translate(28.5,1201.48) rotate(-90) scale(1,1.03)" font-size="33.36">% of triplex disrupted</text>
<g>
<polyline points="129.9,1207.67 131.08,1206.37 132.26,1206.51 133.44,1206.72 134.62,1205.21 135.8,1205.3 136.98,1202.8 138.16,1199.92 139.34,1202.14 140.52,1201.58 141.7,1199 142.88,1198.46 144.06,1198.11 145.24,1199.05 146.42,1196.83 147.6,1194.9 148.78,1197.49 149.96,1195.31 151.14,1196.93 152.32,1195.21 153.5,1195.39 154.68,1192.04 155.86,1193.01 157.04,1189.79 158.22,1189.27 159.4,1189.13 160.58,1192.24 161.76,1188.31 162.94,1186.81 164.12,1185.86 165.3,1187.87 166.48,1185.47 167.66,1185.61 168.84,1184.66 170.02,1180.94 171.2,1183.33 172.38,1181.4 173.56,1179.25 174.74,1181 175.92,1179.57 177.1,1178.57 178.28,1178 179.46,1179.47 180.64,1176.71 181.82,1173.98 183,1178.11 184.18,1173.55 185.36,1174.14 186.54,1174.77 187.72,1169.83 188.9,1171.25 190.08,1173.85 191.26,1171.17 192.44,1169.75 193.62,1170.4 194.8,1168.39 195.98,1169.02 197.16,1167.24 198.34,1165.39 199.52,1168.27 200.7,1166.26 201.88,1166.78 203.06,1165.24 204.24,1166.83 205.42,1165.27 206.6,1164.08 207.78,1161.74 208.96,1160.78 210.14,1164.27 211.32,1162.85 212.5,1159.95 213.68,1163.73 214.86,1160.69 216.04,1159.56 217.22,1156.81 218.4,1157.21 219.58,1158.35 220.76,1157.89 221.94,1157.18 223.12,1153.76 224.3,1156.43 225.48,1155.72 226.66,1154.14 227.84,1154.41 229.02,1154.03 230.2,1155.03 231.38,1152.73 232.56,1152.94 233.74,1149.81 234.92,1150.16 236.1,1150.78 237.28,1149.17 238.46,1150.33 239.64,1147.58 240.82,1148.83 242,1147.4 243.18,1149.99 244.36,1146.84 245.54,1149.71 246.72,1149.81 247.9,1146.52 249.08,1147.04 250.26,1144.84 251.44,1140.98 252.62,1145.56 253.8,1144.78 254.98,1142.98 256.16,1142.06 257.34,1142.72 258.52,1142.33 259.7,1140.4 260.88,1140.27 262.06,1142.38 263.24,1140.39 264.42,1139.77 265.6,1141.13 266.78,1138.56 267.96,1139.97 269.14,1136.56 270.32,1137.42 271.5,1137.17 272.68,1137.87 273.86,1136.69 275.04,1139.36 276.22,1137.54 277.4,1134.69 278.58,1138.37 279.76,1133.1 280.94,1136.95 282.12,1132.46 283.3,1134.69 284.48,1131.65 285.66,1132.32 286.84,1134.66 288.02,1129.72 289.2,1129.02 290.38,1131.11 291.56,1131.07 292.74,1130.51 293.92,1131.47 295.1,1127.71 296.28,1130.02 297.46,1128.85 298.64,1129.7 299.82,1129.07 301,1129.77 302.18,1125.26 303.36,1127.21 304.54,1125.03 305.72,1126.23 306.9,1127.04 308.08,1126.08 309.26,1126.12 310.44,1124.84 311.62,1125.12 312.8,1124.66 313.98,1126.08 315.16,1124.81 316.34,1120.44 317.52,1123.91 318.7,1124.2 319.88,1121.59 321.06,1119.51 322.24,1123.86 323.42,1121.5 324.6,1121.87 325.78,1123.39 326.96,1118.99 328.14,1119.91 329.32,1119.43 330.5,1120.46 331.68,1118.17 332.86,1119.48 334.04,1118.52 335.22,1119.79 336.4,1119.66 337.58,1115.18 338.76,1117.88 339.94,1116.27 341.12,1116.5 342.3,1116.87 343.48,1116.68 344.66,1114.52 345.84,1115.74 347.02,1115.2 348.2,1114.62 349.38,1112.44 350.56,1112.96 351.74,1113.16 352.92,1114.42 354.1,1115.47 355.28,1111.37 356.46,1111.06 357.64,1112.59 358.82,1111.19 360,1110.52 361.18,1110.16 362.36,1109.74 363.54,1111.71 364.72,1108.22 365.9,1112.46 367.08,1108.74 368.26,1109.07 369.44,1108.18 370.62,1106.27 371.8,1106.65 372.98,1110.68 374.16,1111.31 375.34,1106.95 376.52,1109.69 377.7,1107.79 378.88,1106.13 380.06,1109.94 381.24,1110.44 382.42,1106.32 383.6,1106.41 384.78,1106.64 385.96,1105.92 387.14,1107.14 388.32,1107.96 389.5,1105.51 390.68,1106.58 391.86,1107.43 393.04,1103.67 394.22,1104.36 395.4,1103.35 396.58,1105.39 397.76,1104.61 398.94,1104.93 400.12,1104.51 401.3,1102.51 402.48,1103.87 403.66,1101.78 404.84,1101.57 406.02,1098.58 407.2,1103.94 408.38,1099.98 409.56,1101.35 410.74,1101 411.92,1103.12 413.1,1101.28 414.28,1099.09 415.46,1100.22 416.64,1099.73 417.82,1100.11 419,1097.53 420.18,1099.24 421.36,1102.58 422.54,1099.9 423.72,1101.77 424.9,1103.65 426.08,1098.99 427.26,1095.73 428.44,1097.62 429.62,1099.4 430.8,1098.81 431.98,1095.22 433.16,1096.6 434.34,1096.57 435.52,1096.53 436.7,1096.18 437.88,1094.72 439.06,1094.93 440.24,1095.28 441.42,1097.13 442.6,1094.39 443.78,1096.15 444.96,1093.04 446.14,1096.71 447.32,1094.66 448.5,1094.25 449.68,1096.21 450.86,1091.03 452.04,1091.27 453.22,1094.22 454.4,1092.01 455.58,1092.46 456.76,1097.16 457.94,1092.29 459.12,1092.61 460.3,1092.19 461.48,1093.9 462.66,1092.39 463.84,1092.06 465.02,1089.64 466.2,1090.85 467.38,1091.22 468.56,1088.53 469.74,1091.76 470.92,1091.31 472.1,1093.46 473.28,1087.74 474.46,1088.55 475.64,1088.45 476.82,1088.68 478,1089.42 479.18,1089.07 480.36,1089.66 481.54,1089.41 482.72,1088.82 483.9,1086.26 485.08,1087.65 486.26,1088.48 487.44,1089.17 488.62,1089.09 489.8,1085.26 490.98,1086.88 492.16,1087.43 493.34,1087.94 494.52,1089.03 495.7,1087.16 496.88,1085.45 498.06,1087.36 499.24,1086.93 500.42,1086.75 501.6,1086.05 502.78,1088.67 503.96,1086.29 505.14,1087.15 506.32,1084.14 507.5,1086.69 508.68,1084.33 509.86,1082.62 511.04,1085.47 512.22,1085.79 513.4,1084.33 514.58,1084.49 515.76,1085.96 516.94,1083.43 518.12,1080.73 519.3,1084.3 520.48,1084.06 521.66,1085.28 522.84,1082.9 524.02,1085.31 525.2,1084.93 526.38,1080.88 527.56,1084.31 528.74,1080.91 529.92,1080.04 531.1,1081.96 532.28,1081.33 533.46,1078.9 534.64,1082.27 535.82,1082.77 537,1083.87 538.18,1081.45 539.36,1078.95 540.54,1079.66 541.72,1082.63 542.9,1082.35 544.08,1081.63 545.26,1080.19 546.44,1080.86 547.62,1080.04 548.8,1079.76 549.98,1080.6 551.16,1080.04 552.34,1079.5 553.52,1079.84 554.7,1078.74 555.88,1076.37 557.06,1078.32 558.24,1079.07 559.42,1081.78 560.6,1078.25 561.78,1081.94 562.96,1080.93 564.14,1077.09 565.32,1077.2 566.5,1078.47 567.68,1080.89 568.86,1078.57 570.04,1078.95 571.22,1076.67 572.4,1073.89 573.58,1077.1 574.76,1078.6 575.94,1079.11 577.12,1077.16 578.3,1077.23 579.48,1078.7 580.66,1076.5 581.84,1078.44 583.02,1074.62 584.2,1074.58 585.38,1074.41 586.56,1076.84 587.74,1075.1 588.92,1076.03 590.1,1076.33 591.28,1076.13 592.46,1077.58 593.64,1077.69 594.82,1073.91 596,1075.4 597.18,1074.62 598.36,1073.21 599.54,1077.57 600.72,1075.89 601.9,1074.21" fill="none" stroke="#FF6666" stroke-width="8.4" stroke-linejoin="round" stroke-linecap="round"/>
<polyline points="129.9,1204.02 131.08,1204.87 132.26,1201.78 133.44,1202.73 134.62,1204.78 135.8,1203.73 136.98,1200.05 138.16,1200.14 139.34,1203.9 140.52,1197.48 141.7,1198.32 142.88,1196.45 144.06,1199.07 145.24,1198.39 146.42,1199.39 147.6,1192.22 148.78,1196.64 149.96,1192.93 151.14,1196.48 152.32,1194.51 153.5,1197.34 154.68,1194.5 155.86,1191.52 157.04,1195.09 158.22,1190.37 159.4,1191.22 160.58,1193.24 161.76,1191.77 162.94,1191.21 164.12,1189.98 165.3,1190.39 166.48,1190.44 167.66,1189.01 168.84,1189.85 170.02,1189.86 171.2,1187.13 172.38,1184.97 173.56,1188.89 174.74,1185.64 175.92,1186.37 177.1,1186.5 178.28,1182.72 179.46,1184.76 180.64,1180.64 181.82,1184.33 183,1181.76 184.18,1182.42 185.36,1182.93 186.54,1180.05 187.72,1180.96 188.9,1179.14 190.08,1179.88 191.26,1181.34 192.44,1179.11 193.62,1178.4 194.8,1176.32 195.98,1179.28 197.16,1177.28 198.34,1179.91 199.52,1175.17 200.7,1177.9 201.88,1178.8 203.06,1175.2 204.24,1172.67 205.42,1177.03 206.6,1175.83 207.78,1174.79 208.96,1175.08 210.14,1171.93 211.32,1173.68 212.5,1173.12 213.68,1170.35 214.86,1172.38 216.04,1169.82 217.22,1171.97 218.4,1172.02 219.58,1172.75 220.76,1165.64 221.94,1169.22 223.12,1167.8 224.3,1167.91 225.48,1167.18 226.66,1167 227.84,1163.24 229.02,1168.21 230.2,1168.77 231.38,1167.41 232.56,1167.62 233.74,1163.46 234.92,1162.95 236.1,1165.82 237.28,1166.23 238.46,1163.98 239.64,1160.44 240.82,1167.72 242,1161.28 243.18,1163.83 244.36,1159.62 245.54,1163.11 246.72,1161.32 247.9,1163.18 249.08,1161.86 250.26,1157.22 251.44,1157.89 252.62,1159.76 253.8,1160.27 254.98,1161.78 256.16,1158.71 257.34,1157.7 258.52,1157.46 259.7,1157.13 260.88,1158.66 262.06,1156.41 263.24,1156.02 264.42,1153.27 265.6,1151.89 266.78,1155.2 267.96,1156.01 269.14,1154.4 270.32,1155.06 271.5,1154.98 272.68,1153.41 273.86,1154.88 275.04,1151.56 276.22,1152.53 277.4,1151.56 278.58,1152.03 279.76,1152.7 280.94,1152.79 282.12,1151.18 283.3,1151.43 284.48,1149.7 285.66,1149.82 286.84,1151.98 288.02,1149.08 289.2,1151.33 290.38,1149.71 291.56,1148.82 292.74,1151.75 293.92,1147.51 295.1,1147.1 296.28,1147.36 297.46,1147.55 298.64,1147.16 299.82,1147.96 301,1146.38 302.18,1146.61 303.36,1145.14 304.54,1147.21 305.72,1144.3 306.9,1144.18 308.08,1144.41 309.26,1144.67 310.44,1142.58 311.62,1146.33 312.8,1142.19 313.98,1142.3 315.16,1141.95 316.34,1141.49 317.52,1143.1 318.7,1142.1 319.88,1140.2 321.06,1140.3 322.24,1140.44 323.42,1143.29 324.6,1139.29 325.78,1137.88 326.96,1137.9 328.14,1139.04 329.32,1142.03 330.5,1137.23 331.68,1138.94 332.86,1143.01 334.04,1137.47 335.22,1140.6 336.4,1139.99 337.58,1138.53 338.76,1134.81 339.94,1137.54 341.12,1136.12 342.3,1133.18 343.48,1133.21 344.66,1136.04 345.84,1136.04 347.02,1137.65 348.2,1136.37 349.38,1134.09 350.56,1133.9 351.74,1134.17 352.92,1132.32 354.1,1135.29 355.28,1133.74 356.46,1132.07 357.64,1132.1 358.82,1130.98 360,1131.96 361.18,1133.01 362.36,1131.55 363.54,1133.8 364.72,1134.72 365.9,1130.46 367.08,1131.38 368.26,1130.49 369.44,1133.91 370.62,1131.26 371.8,1131.45 372.98,1131.71 374.16,1134.01 375.34,1130.3 376.52,1127.83 377.7,1128.55 378.88,1130.11 380.06,1128.82 381.24,1127.2 382.42,1133.37 383.6,1128.37 384.78,1126.94 385.96,1126.47 387.14,1124.4 388.32,1125.21 389.5,1126.5 390.68,1126.3 391.86,1125.21 393.04,1127.41 394.22,1126.29 395.4,1124.36 396.58,1122.24 397.76,1125.88 398.94,1125.48 400.12,1124.82 401.3,1122.54 402.48,1124.83 403.66,1121.9 404.84,1126.12 406.02,1124.51 407.2,1124.33 408.38,1122.34 409.56,1121.67 410.74,1126.11 411.92,1124.84 413.1,1122.37 414.28,1123.98 415.46,1125.35 416.64,1120.51 417.82,1121.3 419,1121.11 420.18,1122.68 421.36,1119.76 422.54,1121.87 423.72,1119.26 424.9,1122.72 426.08,1122.43 427.26,1120.32 428.44,1121.78 429.62,1119.09 430.8,1119.66 431.98,1121.63 433.16,1119.64 434.34,1120.23 435.52,1117.74 436.7,1120.38 437.88,1119.84 439.06,1116.67 440.24,1114.62 441.42,1114.88 442.6,1118.22 443.78,1117.76 444.96,1115.2 446.14,1118.04 447.32,1119.41 448.5,1117.25 449.68,1116.47 450.86,1118.63 452.04,1119.94 453.22,1119.39 454.4,1115.41 455.58,1117.82 456.76,1116.54 457.94,1115.73 459.12,1114.82 460.3,1116.39 461.48,1114.71 462.66,1117.07 463.84,1115.95 465.02,1116.99 466.2,1112.91 467.38,1114.85 468.56,1115.99 469.74,1115.12 470.92,1114.73 472.1,1112.89 473.28,1116.91 474.46,1115.73 475.64,1114.38 476.82,1108.94 478,1111.65 479.18,1113.43 480.36,1111.78 481.54,1109.18 482.72,1113.19 483.9,1113.28 485.08,1110.26 486.26,1111.42 487.44,1110.94 488.62,1112.94 489.8,1108.37 490.98,1108.61 492.16,1110.54 493.34,1110.18 494.52,1114.96 495.7,1109.97 496.88,1111.34 498.06,1110.05 499.24,1109.46 500.42,1111.18 501.6,1113.48 502.78,1109.6 503.96,1111.48 505.14,1110.59 506.32,1110.95 507.5,1110.33 508.68,1113.77 509.86,1107.22 511.04,1108.83 512.22,1107.14 513.4,1105.42 514.58,1108.84 515.76,1112.02 516.94,1110.24 518.12,1110.67 519.3,1109.26 520.48,1108.07 521.66,1111.72 522.84,1107.33 524.02,1110.56 525.2,1107.15 526.38,1107.76 527.56,1108 528.74,1107.43 529.92,1108.15 531.1,1108.15 532.28,1109.97 533.46,1106.84 534.64,1103.31 535.82,1102.94 537,1104.01 538.18,1105 539.36,1107.39 540.54,1103.41 541.72,1106.01 542.9,1105.91 544.08,1106.2 545.26,1105.38 546.44,1106.22 547.62,1105.46 548.8,1107.15 549.98,1105.74 551.16,1100.8 552.34,1104.95 553.52,1105.14 554.7,1103.62 555.88,1103.19 557.06,1106.38 558.24,1104.62 559.42,1102.46 560.6,1103.52 561.78,1103.67 562.96,1100.96 564.14,1104.9 565.32,1103.4 566.5,1104.39 567.68,1100.62 568.86,1106.76 570.04,1104.32 571.22,1103.96 572.4,1101.68 573.58,1101.67 574.76,1100.13 575.94,1105.42 577.12,1101.08 578.3,1102.87 579.48,1103.44 580.66,1101.14 581.84,1103.69 583.02,1105.69 584.2,1102.48 585.38,1104.42 586.56,1102.77 587.74,1100.82 588.92,1100.82 590.1,1098.4 591.28,1101.54 592.46,1103.86 593.64,1102.35 594.82,1102.54 596,1102.99 597.18,1099.88 598.36,1101.74 599.54,1104.06 600.72,1099.11 601.9,1100.47" fill="none" stroke="#008000" stroke-width="8.4" stroke-linejoin="round" stroke-linecap="round"/>
<polyline points="129.9,1203.55 131.08,1203.65 132.26,1202.62 133.44,1203.22 134.62,1201.22 135.8,1202.13 136.98,1201.92 138.16,1201.63 139.34,1204.09 140.52,1201.95 141.7,1201.83 142.88,1200.89 144.06,1202.91 145.24,1198.3 146.42,1200.27 147.6,1201.93 148.78,1202.4 149.96,1200.07 151.14,1199.54 152.32,1200.2 153.5,1198.77 154.68,1199.58 155.86,1197.6 157.04,1199.2 158.22,1197.96 159.4,1196.23 160.58,1193.67 161.76,1198.62 162.94,1197.59 164.12,1197.89 165.3,1195.28 166.48,1197.85 167.66,1196.64 168.84,1195.73 170.02,1196.87 171.2,1196.6 172.38,1195.66 173.56,1197.78 174.74,1196.59 175.92,1194.85 177.1,1193.79 178.28,1194.04 179.46,1196.11 180.64,1193.97 181.82,1191.9 183,1192.02 184.18,1192.71 185.36,1193.65 186.54,1191.21 187.72,1192.73 188.9,1193.36 190.08,1192.59 191.26,1189.09 192.44,1190.65 193.62,1189.05 194.8,1191.21 195.98,1188.92 197.16,1190.93 198.34,1190.06 199.52,1185.99 200.7,1188.26 201.88,1189.88 203.06,1189.05 204.24,1188.23 205.42,1186.72 206.6,1188.97 207.78,1190.56 208.96,1188.22 210.14,1187.57 211.32,1187.21 212.5,1185.24 213.68,1186.47 214.86,1185.53 216.04,1188.09 217.22,1185.02 218.4,1183.01 219.58,1184.72 220.76,1185.26 221.94,1185.19 223.12,1182.6 224.3,1186.33 225.48,1184.93 226.66,1183.89 227.84,1183.27 229.02,1184.77 230.2,1183.48 231.38,1184.12 232.56,1183.33 233.74,1183.49 234.92,1184.75 236.1,1182.91 237.28,1181.4 238.46,1183.87 239.64,1182.61 240.82,1181.08 242,1183.4 243.18,1181.38 244.36,1182.98 245.54,1179.58 246.72,1177.67 247.9,1177.89 249.08,1180.94 250.26,1179.35 251.44,1180.05 252.62,1179.87 253.8,1177.57 254.98,1181.54 256.16,1177.89 257.34,1179.3 258.52,1176.98 259.7,1178.56 260.88,1179.61 262.06,1178.04 263.24,1177.17 264.42,1178 265.6,1177.15 266.78,1178.42 267.96,1180.57 269.14,1175.97 270.32,1176.07 271.5,1176.68 272.68,1176.6 273.86,1175 275.04,1176.98 276.22,1177.16 277.4,1176.21 278.58,1174.02 279.76,1177.58 280.94,1173.64 282.12,1176.12 283.3,1176.6 284.48,1172.98 285.66,1174.77 286.84,1176.33 288.02,1174.78 289.2,1172.72 290.38,1172.16 291.56,1174.33 292.74,1172.94 293.92,1172.31 295.1,1174.1 296.28,1172.46 297.46,1172.85 298.64,1173.4 299.82,1173.16 301,1172.16 302.18,1172.04 303.36,1172.73 304.54,1172.35 305.72,1169.93 306.9,1171.06 308.08,1169.91 309.26,1169.27 310.44,1169.99 311.62,1167.37 312.8,1171.7 313.98,1169.15 315.16,1170.61 316.34,1167.28 317.52,1167.33 318.7,1172.47 319.88,1170.87 321.06,1168.32 322.24,1167.97 323.42,1167.88 324.6,1168.88 325.78,1167.95 326.96,1167.49 328.14,1168.38 329.32,1166.61 330.5,1171.22 331.68,1166.85 332.86,1169.11 334.04,1166.04 335.22,1167.6 336.4,1168.4 337.58,1166.4 338.76,1168.1 339.94,1167.94 341.12,1168.73 342.3,1166.33 343.48,1165.4 344.66,1164.47 345.84,1166.01 347.02,1164.12 348.2,1165.45 349.38,1165.45 350.56,1164.32 351.74,1163.46 352.92,1165.34 354.1,1165.04 355.28,1164.76 356.46,1164.25 357.64,1165.52 358.82,1162.56 360,1164.48 361.18,1163.07 362.36,1164.78 363.54,1162.91 364.72,1162.7 365.9,1163.73 367.08,1160.03 368.26,1162.27 369.44,1160.08 370.62,1161.11 371.8,1163.32 372.98,1162.76 374.16,1161.42 375.34,1161.81 376.52,1161.68 377.7,1162.02 378.88,1164.08 380.06,1161.63 381.24,1164.38 382.42,1160.46 383.6,1161.91 384.78,1161.75 385.96,1160.88 387.14,1160.02 388.32,1162.35 389.5,1162.66 390.68,1161.52 391.86,1162.8 393.04,1161.09 394.22,1157.23 395.4,1160.93 396.58,1158.3 397.76,1161.1 398.94,1158.53 400.12,1159.29 401.3,1158.77 402.48,1157.71 403.66,1155.84 404.84,1157.97 406.02,1157.93 407.2,1159.39 408.38,1156.99 409.56,1158.05 410.74,1156.35 411.92,1157.48 413.1,1154.75 414.28,1160.02 415.46,1157.43 416.64,1155.58 417.82,1157.24 419,1157.74 420.18,1156.84 421.36,1158.33 422.54,1156.01 423.72,1152.5 424.9,1154.25 426.08,1157.39 427.26,1156.92 428.44,1156.1 429.62,1153.92 430.8,1156.44 431.98,1156.12 433.16,1153.7 434.34,1153.59 435.52,1155.26 436.7,1156.21 437.88,1156.71 439.06,1155.34 440.24,1157.44 441.42,1152.98 442.6,1154.85 443.78,1153.11 444.96,1150.96 446.14,1151.85 447.32,1155.1 448.5,1152.03 449.68,1151.49 450.86,1154.13 452.04,1154.3 453.22,1152.95 454.4,1154.99 455.58,1150.4 456.76,1155.91 457.94,1153.9 459.12,1152.56 460.3,1152.37 461.48,1151.67 462.66,1151.4 463.84,1151.98 465.02,1149.89 466.2,1154.53 467.38,1151.3 468.56,1152.22 469.74,1150.87 470.92,1150.62 472.1,1152.14 473.28,1151.63 474.46,1149.42 475.64,1149.95 476.82,1151.33 478,1147.25 479.18,1146.74 480.36,1152.11 481.54,1149.42 482.72,1146.1 483.9,1148.49 485.08,1149.19 486.26,1149.69 487.44,1150.06 488.62,1149.47 489.8,1149.84 490.98,1147.85 492.16,1149.39 493.34,1149.34 494.52,1150.33 495.7,1148.54 496.88,1149.65 498.06,1148.5 499.24,1146.61 500.42,1147.48 501.6,1147.17 502.78,1147.27 503.96,1147.59 505.14,1147.75 506.32,1147.9 507.5,1146.24 508.68,1148.81 509.86,1145.17 511.04,1146.96 512.22,1147.99 513.4,1147.5 514.58,1147.66 515.76,1146.34 516.94,1147.5 518.12,1144.69 519.3,1147.38 520.48,1149.44 521.66,1147.09 522.84,1148.84 524.02,1145.87 525.2,1144.17 526.38,1144.66 527.56,1147.44 528.74,1146.5 529.92,1142.7 531.1,1144.71 532.28,1145.07 533.46,1143.43 534.64,1141.3 535.82,1142.87 537,1144.45 538.18,1144.03 539.36,1143.55 540.54,1145.23 541.72,1145.78 542.9,1144.06 544.08,1145.41 545.26,1144.02 546.44,1143.69 547.62,1140.33 548.8,1144.87 549.98,1143.7 551.16,1143.67 552.34,1142.69 553.52,1141.71 554.7,1143.84 555.88,1144.22 557.06,1145.31 558.24,1144.18 559.42,1141.95 560.6,1142.57 561.78,1144.01 562.96,1142.98 564.14,1142.29 565.32,1141.51 566.5,1143.01 567.68,1142.41 568.86,1144.59 570.04,1143.53 571.22,1139.41 572.4,1144.84 573.58,1142.06 574.76,1141.15 575.94,1141.92 577.12,1142.45 578.3,1141.27 579.48,1141.1 580.66,1141.12 581.84,1143.63 583.02,1141.02 584.2,1141.96 585.38,1141.42 586.56,1140.2 587.74,1139.51 588.92,1139.04 590.1,1140.97 591.28,1138.82 592.46,1138.36 593.64,1138.33 594.82,1137.87 596,1140.01 597.18,1139.96 598.36,1138.42 599.54,1141.51 600.72,1139.13 601.9,1140.12" fill="none" stroke="#0080FF" stroke-width="8.4" stroke-linejoin="round" stroke-linecap="round"/>
<polyline points="129.9,1209.48 131.08,1210.22 132.26,1206.53 133.44,1202.84 134.62,1199.09 135.8,1196.96 136.98,1197.15 138.16,1195.38 139.34,1194.62 140.52,1190.05 141.7,1189.16 142.88,1185.18 144.06,1180.54 145.24,1181.7 146.42,1182.18 147.6,1178.42 148.78,1177.09 149.96,1173.91 151.14,1166.13 152.32,1165.47 153.5,1166.2 154.68,1159.22 155.86,1155.57 157.04,1156.58 158.22,1155.09 159.4,1152.37 160.58,1149.17 161.76,1146.57 162.94,1143.65 164.12,1141.8 165.3,1140.11 166.48,1138.08 167.66,1137.88 168.84,1140.69 170.02,1136.35 171.2,1133.94 172.38,1133.79 173.56,1129.64 174.74,1130.58 175.92,1130.06 177.1,1123.62 178.28,1123.45 179.46,1122.59 180.64,1119.43 181.82,1117.43 183,1117.17 184.18,1121.11 185.36,1115.95 186.54,1113.99 187.72,1113.55 188.9,1109.71 190.08,1106.28 191.26,1108.22 192.44,1108.13 193.62,1100.47 194.8,1104.13 195.98,1104.45 197.16,1100.32 198.34,1098.81 199.52,1100.01 200.7,1096.02 201.88,1097.6 203.06,1097.53 204.24,1094.4 205.42,1092.29 206.6,1094.15 207.78,1091.25 208.96,1091.08 210.14,1084.19 211.32,1090.17 212.5,1084.87 213.68,1086.61 214.86,1085.62 216.04,1082.78 217.22,1081.3 218.4,1079.42 219.58,1080.18 220.76,1080.95 221.94,1079.77 223.12,1076.66 224.3,1075.55 225.48,1072.96 226.66,1074 227.84,1071.81 229.02,1070.01 230.2,1071.83 231.38,1074.27 232.56,1072.81 233.74,1072.48 234.92,1065.59 236.1,1069.64 237.28,1064.65 238.46,1065.12 239.64,1062.03 240.82,1062.63 242,1064.02 243.18,1063.4 244.36,1062.02 245.54,1061.04 246.72,1061.65 247.9,1059.87 249.08,1055.81 250.26,1061.67 251.44,1056.99 252.62,1058.58 253.8,1055.66 254.98,1053.63 256.16,1054.71 257.34,1052.36 258.52,1056.41 259.7,1050.39 260.88,1053.21 262.06,1050.18 263.24,1050.52 264.42,1055.52 265.6,1051.35 266.78,1048.9 267.96,1045.75 269.14,1047.79 270.32,1047.37 271.5,1050.23 272.68,1044.06 273.86,1042.81 275.04,1045.86 276.22,1045.83 277.4,1048.09 278.58,1042.52 279.76,1038.29 280.94,1041.64 282.12,1039.88 283.3,1040.63 284.48,1042.96 285.66,1037.58 286.84,1041.97 288.02,1039.16 289.2,1037.41 290.38,1035.43 291.56,1035.6 292.74,1034.91 293.92,1036.47 295.1,1036.81 296.28,1033.43 297.46,1034.32 298.64,1034.91 299.82,1034.25 301,1032.16 302.18,1034.36 303.36,1032.85 304.54,1032.93 305.72,1028.83 306.9,1027.91 308.08,1024.26 309.26,1030.82 310.44,1028.75 311.62,1025.13 312.8,1026.95 313.98,1026.73 315.16,1022.22 316.34,1025.87 317.52,1027.05 318.7,1026.91 319.88,1023.13 321.06,1022.72 322.24,1025.6 323.42,1024.36 324.6,1020.85 325.78,1020.29 326.96,1022.26 328.14,1019.26 329.32,1018.88 330.5,1023.11 331.68,1019.7 332.86,1017.76 334.04,1019.25 335.22,1021.9 336.4,1017.7 337.58,1015.13 338.76,1012.98 339.94,1020.01 341.12,1009.9 342.3,1016.87 343.48,1012.19 344.66,1011.11 345.84,1011.09 347.02,1012.23 348.2,1014.32 349.38,1010.22 350.56,1012.37 351.74,1015.45 352.92,1004.22 354.1,1007.92 355.28,1005.17 356.46,1010.09 357.64,1004.8 358.82,1004.02 360,1003.56 361.18,1006.16 362.36,1007.98 363.54,1005.38 364.72,1008.87 365.9,1007.32 367.08,1003.18 368.26,1004.79 369.44,1002.59 370.62,1001.93 371.8,997.31 372.98,998.03 374.16,1000.18 375.34,997.15 376.52,1000.6 377.7,999.21 378.88,996.21 380.06,1000.01 381.24,997.58 382.42,999.17 383.6,995.8 384.78,992.27 385.96,996.55 387.14,994.11 388.32,995.87 389.5,995.9 390.68,995.6 391.86,989.76 393.04,987.49 394.22,990.79 395.4,992.75 396.58,989.47 397.76,991.12 398.94,988.43 400.12,989.05 401.3,988.68 402.48,987.65 403.66,989.65 404.84,988.95 406.02,991.23 407.2,988.34 408.38,989.96 409.56,987.07 410.74,988.36 411.92,985.9 413.1,984.86 414.28,988.25 415.46,986.68 416.64,986.58 417.82,982.82 419,980.51 420.18,981.8 421.36,983.78 422.54,979.7 423.72,985.2 424.9,978.71 426.08,982.54 427.26,986.3 428.44,974.95 429.62,976.61 430.8,981.33 431.98,978.43 433.16,978.71 434.34,977.59 435.52,980.28 436.7,978.21 437.88,975.45 439.06,975.49 440.24,973.11 441.42,974.92 442.6,969.96 443.78,975.67 444.96,973.32 446.14,977.26 447.32,975.53 448.5,969.97 449.68,974.11 450.86,970.76 452.04,971.55 453.22,973.1 454.4,971.3 455.58,971.22 456.76,970.74 457.94,967.83 459.12,967.6 460.3,969.6 461.48,969.8 462.66,966.95 463.84,967.23 465.02,964.49 466.2,960.75 467.38,963.88 468.56,965.14 469.74,964.93 470.92,965.81 472.1,965.43 473.28,965.16 474.46,963.48 475.64,963.09 476.82,960.32 478,962.18 479.18,961.38 480.36,963.02 481.54,956.91 482.72,958.81 483.9,955.87 485.08,957.49 486.26,955.75 487.44,958.86 488.62,956.58 489.8,952.26 490.98,959.77 492.16,954.63 493.34,953.25 494.52,955.47 495.7,954.44 496.88,953.08 498.06,956.64 499.24,954.13 500.42,956.41 501.6,955.7 502.78,955.26 503.96,953.97 505.14,953.06 506.32,952.12 507.5,955.64 508.68,948.38 509.86,949.76 511.04,950.33 512.22,952.25 513.4,951.39 514.58,949.78 515.76,949.75 516.94,953.72 518.12,948.45 519.3,943.68 520.48,953.12 521.66,946.97 522.84,947.93 524.02,948.58 525.2,945.2 526.38,950.1 527.56,946.99 528.74,943.97 529.92,947.02 531.1,947.12 532.28,945.66 533.46,946.45 534.64,942 535.82,946.67 537,942.65 538.18,946.65 539.36,942.34 540.54,943.56 541.72,948.29 542.9,942.63 544.08,944.45 545.26,942.81 546.44,938.37 547.62,943.46 548.8,942.97 549.98,937.46 551.16,939.81 552.34,936.51 553.52,938.64 554.7,940.75 555.88,938.7 557.06,935.68 558.24,935.91 559.42,937.49 560.6,937.05 561.78,937.04 562.96,937.67 564.14,932.19 565.32,935.83 566.5,937.86 567.68,936.21 568.86,933.44 570.04,933.32 571.22,934.64 572.4,935.44 573.58,933.74 574.76,936.95 575.94,935.91 577.12,931.32 578.3,933.67 579.48,931.65 580.66,929.65 581.84,930.55 583.02,931.58 584.2,926.99 585.38,929.73 586.56,931.57 587.74,929.08 588.92,929.5 590.1,931.84 591.28,929.69 592.46,929.93 593.64,933.39 594.82,929.46 596,929.45 597.18,929.53 598.36,931.78 599.54,928.9 600.72,928.02 601.9,927.5" fill="none" stroke="#8000FF" stroke-width="8.4" stroke-linejoin="round" stroke-linecap="round"/>
<polyline points="129.9,1214.87 131.08,1212.84 132.26,1214.87 133.44,1213.71 134.62,1211.94 135.8,1214.14 136.98,1213.88 138.16,1212.06 139.34,1213.65 140.52,1213.5 141.7,1212.87 142.88,1211.9 144.06,1215.49 145.24,1213.91 146.42,1214.06 147.6,1214.1 148.78,1213.79 149.96,1213.73 151.14,1212.41 152.32,1213.69 153.5,1212.51 154.68,1212.16 155.86,1213.37 157.04,1212.37 158.22,1210.64 159.4,1212.06 160.58,1213.09 161.76,1212.4 162.94,1213.31 164.12,1211.94 165.3,1211.23 166.48,1213.06 167.66,1212.34 168.84,1210.82 170.02,1212.57 171.2,1211.76 172.38,1213.06 173.56,1212.79 174.74,1212.4 175.92,1209.42 177.1,1212.19 178.28,1212.28 179.46,1212.27 180.64,1211.79 181.82,1210.85 183,1211.32 184.18,1209.24 185.36,1211.2 186.54,1209.81 187.72,1211.05 188.9,1210.65 190.08,1212.84 191.26,1211.36 192.44,1211.25 193.62,1211.4 194.8,1213.44 195.98,1210.09 197.16,1211.43 198.34,1211.44 199.52,1211.2 200.7,1211.13 201.88,1210.39 203.06,1212.18 204.24,1211.76 205.42,1210.39 206.6,1210.51 207.78,1211.03 208.96,1211.21 210.14,1211.45 211.32,1210.56 212.5,1209.17 213.68,1211.57 214.86,1208.71 216.04,1209.41 217.22,1210.79 218.4,1209.4 219.58,1211.81 220.76,1212.06 221.94,1211.53 223.12,1210.53 224.3,1210.4 225.48,1210.57 226.66,1209.86 227.84,1212.25 229.02,1209.35 230.2,1211.39 231.38,1210.53 232.56,1210.22 233.74,1210.99 234.92,1211.18 236.1,1210.74 237.28,1209.62 238.46,1208.92 239.64,1208.91 240.82,1210.57 242,1210.31 243.18,1210.41 244.36,1208.88 245.54,1211.55 246.72,1207.94 247.9,1209.78 249.08,1210.07 250.26,1208.81 251.44,1208.01 252.62,1208.73 253.8,1207.91 254.98,1208.88 256.16,1207.65 257.34,1207.59 258.52,1209.02 259.7,1207.3 260.88,1208.65 262.06,1208.7 263.24,1209.76 264.42,1209.04 265.6,1207.84 266.78,1210.08 267.96,1207.9 269.14,1208.19 270.32,1208.23 271.5,1210.9 272.68,1208.57 273.86,1207.72 275.04,1209.22 276.22,1208.25 277.4,1210.91 278.58,1207.55 279.76,1208.96 280.94,1207.25 282.12,1210.18 283.3,1207.38 284.48,1208.35 285.66,1207.18 286.84,1209.03 288.02,1208.66 289.2,1205.51 290.38,1208.82 291.56,1208.65 292.74,1208.15 293.92,1208.92 295.1,1206.48 296.28,1205.86 297.46,1208.47 298.64,1209.55 299.82,1206.36 301,1206.39 302.18,1206.67 303.36,1206.27 304.54,1208.44 305.72,1207.64 306.9,1208.93 308.08,1208.94 309.26,1206.29 310.44,1208.05 311.62,1204.8 312.8,1207.17 313.98,1207.92 315.16,1206.31 316.34,1205.19 317.52,1206.59 318.7,1208.41 319.88,1206.64 321.06,1205.51 322.24,1207.52 323.42,1207.79 324.6,1205.81 325.78,1206.73 326.96,1208.05 328.14,1207.23 329.32,1207.6 330.5,1206.42 331.68,1206.59 332.86,1205.43 334.04,1205.88 335.22,1208.32 336.4,1206.14 337.58,1205.57 338.76,1206.02 339.94,1205.36 341.12,1207.05 342.3,1207.46 343.48,1205.37 344.66,1207.52 345.84,1208.68 347.02,1205.17 348.2,1207.05 349.38,1206.56 350.56,1207.72 351.74,1207.61 352.92,1207.39 354.1,1206.49 355.28,1205.67 356.46,1208.54 357.64,1205.19 358.82,1207.26 360,1207.11 361.18,1205.17 362.36,1205.96 363.54,1207.53 364.72,1203.81 365.9,1206.73 367.08,1205.49 368.26,1205.51 369.44,1204.16 370.62,1206.16 371.8,1204.54 372.98,1206.41 374.16,1204.35 375.34,1206.38 376.52,1205.91 377.7,1203.42 378.88,1205.11 380.06,1205.3 381.24,1202.95 382.42,1204.97 383.6,1206.22 384.78,1204.5 385.96,1206.56 387.14,1204.01 388.32,1203.9 389.5,1205.81 390.68,1205.84 391.86,1204.93 393.04,1205.08 394.22,1206.13 395.4,1204.42 396.58,1207.23 397.76,1205.45 398.94,1205.39 400.12,1205.22 401.3,1204.56 402.48,1206.2 403.66,1204.19 404.84,1205 406.02,1205.49 407.2,1206.24 408.38,1206.01 409.56,1204.3 410.74,1205.71 411.92,1204.57 413.1,1203.45 414.28,1203.45 415.46,1202.85 416.64,1204.85 417.82,1205.68 419,1203.35 420.18,1204.1 421.36,1203.19 422.54,1204.37 423.72,1203.05 424.9,1203.41 426.08,1203.52 427.26,1203.72 428.44,1203.81 429.62,1203.96 430.8,1203.94 431.98,1203.08 433.16,1204.69 434.34,1202.22 435.52,1204.2 436.7,1202.98 437.88,1204.13 439.06,1204.27 440.24,1201.76 441.42,1204.28 442.6,1205.31 443.78,1204.67 444.96,1204.21 446.14,1201.49 447.32,1203.59 448.5,1202.77 449.68,1204.85 450.86,1203.35 452.04,1202.98 453.22,1201.72 454.4,1204.42 455.58,1202.97 456.76,1203.28 457.94,1204.69 459.12,1203.57 460.3,1203.81 461.48,1206.04 462.66,1202.82 463.84,1202.86 465.02,1203.9 466.2,1204.86 467.38,1201.76 468.56,1203.06 469.74,1202.21 470.92,1201.76 472.1,1203.84 473.28,1202.36 474.46,1203.48 475.64,1203.27 476.82,1203.27 478,1203.15 479.18,1201.91 480.36,1202.96 481.54,1203.24 482.72,1203.35 483.9,1202.65 485.08,1203.97 486.26,1203.52 487.44,1203.01 488.62,1203.54 489.8,1203.03 490.98,1203.54 492.16,1200.67 493.34,1201.38 494.52,1202.31 495.7,1202.84 496.88,1200.37 498.06,1202.38 499.24,1202.8 500.42,1202.35 501.6,1202.33 502.78,1201.1 503.96,1202.63 505.14,1200.3 506.32,1203.53 507.5,1201.78 508.68,1203.61 509.86,1200.51 511.04,1202.83 512.22,1202.51 513.4,1201.42 514.58,1201.03 515.76,1203.59 516.94,1202.73 518.12,1203.85 519.3,1202.16 520.48,1202.4 521.66,1202.64 522.84,1202.99 524.02,1202.64 525.2,1203.01 526.38,1201.59 527.56,1200.5 528.74,1204.23 529.92,1202.23 531.1,1202.54 532.28,1201.52 533.46,1203.07 534.64,1202.17 535.82,1203.12 537,1201.21 538.18,1201.84 539.36,1202.1 540.54,1201.5 541.72,1202.15 542.9,1203.55 544.08,1201.19 545.26,1201.5 546.44,1201.96 547.62,1200.7 548.8,1200.42 549.98,1202.92 551.16,1202.56 552.34,1200 553.52,1200.11 554.7,1202.44 555.88,1202.91 557.06,1202.29 558.24,1202.12 559.42,1203.28 560.6,1201.5 561.78,1202.91 562.96,1202.81 564.14,1200.47 565.32,1202.19 566.5,1201.51 567.68,1200.72 568.86,1200.5 570.04,1201.73 571.22,1201.3 572.4,1202.22 573.58,1199.4 574.76,1200.57 575.94,1202.46 577.12,1201.24 578.3,1200.44 579.48,1200.68 580.66,1199.18 581.84,1199.66 583.02,1201.73 584.2,1201.21 585.38,1202.49 586.56,1200.8 587.74,1200.89 588.92,1198.09 590.1,1200.91 591.28,1203.28 592.46,1201.71 593.64,1200.83 594.82,1202.3 596,1201.86 597.18,1201.29 598.36,1200.5 599.54,1201.04 600.72,1201.81 601.9,1199.96" fill="none" stroke="#666666" stroke-width="8.4" stroke-linejoin="round" stroke-linecap="round"/>
</g>
</svg></body></html>
